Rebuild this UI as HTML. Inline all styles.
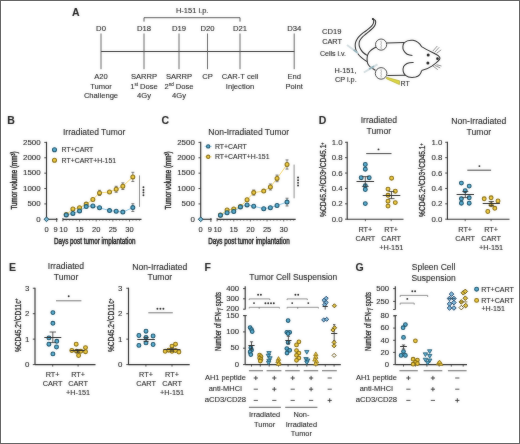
<!DOCTYPE html>
<html><head><meta charset="utf-8"><title>Figure</title>
<style>
html,body{margin:0;padding:0;background:#fff;}
body{width:520px;height:444px;overflow:hidden;}
#fig{position:relative;width:520px;height:444px;background:#fff;}
#fig svg{position:absolute;left:0;top:0;display:block;font-family:"Liberation Sans",sans-serif;will-change:transform;}
#fig svg text{stroke:#1e1e1e;stroke-width:0.1px;}
#frame{position:absolute;left:0;top:0;width:520px;height:444px;box-sizing:border-box;border:1px solid #666;}
</style></head>
<body>
<div id="fig">
<svg width="520" height="444" viewBox="0 0 520 444" fill="#1e1e1e">
<defs><filter id="soft" x="-2%" y="-2%" width="104%" height="104%" color-interpolation-filters="sRGB"><feGaussianBlur stdDeviation="0.8"/></filter></defs>
<g>
<rect width="520" height="444" fill="#fff"/>
<text x="72" y="15.8" font-size="10.5" font-weight="bold">A</text>
<path d="M144,21.6 V17.7 H240 V21.6" stroke="#2b2b2b" stroke-width="0.8" fill="none"/>
<text x="192.2" y="12.9" font-size="7.5" text-anchor="middle">H-151 i.p.</text>
<line x1="101" y1="51.5" x2="294.4" y2="51.5" stroke="#333" stroke-width="1"/>
<line x1="101" y1="33.5" x2="101" y2="69.2" stroke="#555" stroke-width="0.9"/>
<text x="101" y="30.5" font-size="7.7" text-anchor="middle">D0</text>
<line x1="144" y1="33.5" x2="144" y2="69.2" stroke="#555" stroke-width="0.9"/>
<text x="144" y="30.5" font-size="7.7" text-anchor="middle">D18</text>
<line x1="179" y1="33.5" x2="179" y2="69.2" stroke="#555" stroke-width="0.9"/>
<text x="179" y="30.5" font-size="7.7" text-anchor="middle">D19</text>
<line x1="207.5" y1="33.5" x2="207.5" y2="69.2" stroke="#555" stroke-width="0.9"/>
<text x="207.5" y="30.5" font-size="7.7" text-anchor="middle">D20</text>
<line x1="240" y1="33.5" x2="240" y2="69.2" stroke="#555" stroke-width="0.9"/>
<text x="240" y="30.5" font-size="7.7" text-anchor="middle">D21</text>
<line x1="294.2" y1="33.5" x2="294.2" y2="69.2" stroke="#555" stroke-width="0.9"/>
<text x="294.2" y="30.5" font-size="7.7" text-anchor="middle">D34</text>
<text x="101" y="78.9" font-size="7.6" text-anchor="middle">A20</text>
<text x="101" y="88.5" font-size="7.6" text-anchor="middle">Tumor</text>
<text x="101" y="98.1" font-size="7.6" text-anchor="middle">Challenge</text>
<text x="144" y="78.9" font-size="7.6" text-anchor="middle">SARRP</text>
<text x="144" y="88.5" font-size="7.6" text-anchor="middle">1<tspan font-size="4.6" dy="-2.6">st</tspan><tspan dy="2.6"> Dose</tspan></text>
<text x="144" y="98.1" font-size="7.6" text-anchor="middle">4Gy</text>
<text x="179" y="78.9" font-size="7.6" text-anchor="middle">SARRP</text>
<text x="179" y="88.5" font-size="7.6" text-anchor="middle">2<tspan font-size="4.6" dy="-2.6">nd</tspan><tspan dy="2.6"> Dose</tspan></text>
<text x="179" y="98.1" font-size="7.6" text-anchor="middle">4Gy</text>
<text x="207.5" y="78.9" font-size="7.6" text-anchor="middle">CP</text>
<text x="240" y="78.9" font-size="7.6" text-anchor="middle">CAR-T cell</text>
<text x="240" y="88.5" font-size="7.6" text-anchor="middle">Injection</text>
<text x="294.2" y="78.9" font-size="7.6" text-anchor="middle">End</text>
<text x="294.2" y="88.5" font-size="7.6" text-anchor="middle">Point</text>
<text x="331.7" y="34" font-size="7.6" text-anchor="middle">CD19</text>
<text x="332" y="44.3" font-size="7.3" text-anchor="middle">CART</text>
<text x="333" y="55.6" font-size="7" text-anchor="middle">Cells i.v.</text>
<text x="345.5" y="72.5" font-size="7.3" text-anchor="middle">H-151,</text>
<text x="345.8" y="82.2" font-size="7.3" text-anchor="middle">CP i.p.</text>
<text x="400.6" y="85.9" font-size="7">RT</text>
<path d="M372.4,18.7 C372.62,18.97 373.57,19.48 373.7,20.3 C373.83,21.12 373.6,22.6 373.2,23.6 C372.8,24.6 372.4,25.17 371.3,26.3 C370.2,27.43 367.98,29.3 366.6,30.4 C365.22,31.5 364.2,31.95 363,32.9 C361.8,33.85 360.42,35.02 359.4,36.1 C358.38,37.18 357.53,38.37 356.9,39.4 C356.27,40.43 355.88,41.28 355.6,42.3 C355.32,43.32 355.2,44.47 355.2,45.5 C355.2,46.53 355.38,47.55 355.6,48.5 C355.82,49.45 355.98,50.15 356.5,51.2 C357.02,52.25 357.92,53.78 358.7,54.8 C359.48,55.82 360.42,56.58 361.2,57.3 C361.98,58.02 362.45,58.38 363.4,59.1 C364.35,59.82 366.32,61.18 366.9,61.6" stroke="#262626" stroke-width="1.05" fill="none"/>
<path d="M372.4,18.7 C372.9,19.02 374.9,19.7 375.4,20.6 C375.9,21.5 375.72,22.97 375.4,24.1 C375.08,25.23 374.48,26.23 373.5,27.4 C372.52,28.57 370.77,30 369.5,31.1 C368.23,32.2 367.05,33.05 365.9,34 C364.75,34.95 363.57,35.78 362.6,36.8 C361.63,37.82 360.68,39.07 360.1,40.1 C359.52,41.13 359.22,41.93 359.1,43 C358.98,44.07 359.05,45.32 359.4,46.5 C359.75,47.68 360.48,49.02 361.2,50.1 C361.92,51.18 362.65,52.08 363.7,53 C364.75,53.92 366.87,55.17 367.5,55.6" stroke="#262626" stroke-width="1.05" fill="none"/>
<circle cx="372.9" cy="19.1" r="1.0" fill="#222"/>
<path d="M376.3,47 C375.9,47.2 374.85,47.6 373.9,48.2 C372.95,48.8 371.53,49.73 370.6,50.6 C369.67,51.47 368.85,52.42 368.3,53.4 C367.75,54.38 367.5,55.4 367.3,56.5 C367.1,57.6 367.02,58.78 367.1,60 C367.18,61.22 367.35,62.72 367.8,63.8 C368.25,64.88 369.02,65.72 369.8,66.5 C370.58,67.28 371.55,67.87 372.5,68.5 C373.45,69.13 375,70 375.5,70.3" stroke="#262626" stroke-width="1.05" fill="none"/>
<circle cx="381.1" cy="44.6" r="5.6" fill="#fff" stroke="#333" stroke-width="0.9"/>
<circle cx="381.1" cy="73.4" r="5.8" fill="#fff" stroke="#333" stroke-width="0.9"/>
<path d="M381.2,40.8 c-0.9,1 0.9,1.8 0,2.8 c-0.9,1 0.9,1.8 0,2.8 c-0.9,1 0.6,1.6 0,2.4" stroke="#8a8a8a" stroke-width="0.8" fill="none"/>
<path d="M381.2,69.4 c-0.9,1 0.9,1.8 0,2.8 c-0.9,1 0.9,1.8 0,2.8 c-0.9,1 0.6,1.6 0,2.4" stroke="#8a8a8a" stroke-width="0.8" fill="none"/>
<path d="M386.6,42.9 L404.3,42.6" stroke="#262626" stroke-width="1.05" fill="none"/>
<path d="M387.3,75.6 L405.3,75.3" stroke="#262626" stroke-width="1.05" fill="none"/>
<path d="M404.3,42.6 C406.5,40.6 410,39.9 413,40.3 C416.5,40.9 419.5,42.9 421.5,46.6 C425.5,49.2 431.5,52 435.8,54.2 C438.6,55.6 440.3,57.5 439.8,58.8 C439.2,60.6 436.5,62.6 432.2,65.9 C428.5,68.5 425,69.9 421.6,70.6" stroke="#262626" stroke-width="1.05" fill="none"/>
<path d="M404.3,42.6 C402.6,44.6 402.4,48.4 403.7,50.6 C405.1,53.3 408.4,55.5 412.4,55.5" stroke="#262626" stroke-width="1.05" fill="none"/>
<path d="M413.6,62.5 C409.4,62.3 405.3,63.6 403.6,66.6 C402.4,69.5 403.1,73.5 405.5,75.3 C407.8,77.2 412.2,77.8 415.6,77.1 C418.7,76.3 420.8,74.2 421.6,70.6" stroke="#262626" stroke-width="1.05" fill="none"/>
<circle cx="428.2" cy="55.0" r="1.5" fill="#1a1a1a"/>
<circle cx="427.9" cy="63.1" r="1.5" fill="#1a1a1a"/>
<circle cx="437.5" cy="58.7" r="1.35" fill="#1a1a1a"/>
<line x1="432.8" y1="51.1" x2="437.3" y2="46" stroke="#444" stroke-width="0.6"/>
<line x1="434.7" y1="52.3" x2="439.2" y2="47.3" stroke="#444" stroke-width="0.6"/>
<line x1="436.5" y1="53.3" x2="441.2" y2="49.9" stroke="#444" stroke-width="0.6"/>
<line x1="432.8" y1="65.9" x2="437.8" y2="69.7" stroke="#444" stroke-width="0.6"/>
<line x1="434.7" y1="65.3" x2="440.2" y2="67.9" stroke="#444" stroke-width="0.6"/>
<line x1="436.5" y1="64.7" x2="441.5" y2="66" stroke="#444" stroke-width="0.6"/>
<path d="M347.0,45.0 L358.2,53.2" stroke="#d3dde0" stroke-width="2" fill="none"/>
<path d="M353.6,49.8 L357.4,52.6" stroke="#8fb0b9" stroke-width="1.6" fill="none"/>
<path d="M363.8,72.5 L377.5,64.3" stroke="#d3dde0" stroke-width="2" fill="none"/>
<path d="M369.0,69.0 L374.0,66.3" stroke="#8fb0b9" stroke-width="1.6" fill="none"/>
<path d="M386.6,77.3 L399.6,80.8 L399.4,84.6 L386.3,78.7 Z" stroke="#aaa11c" stroke-width="0.6" fill="#dcd640"/>
<text x="7.2" y="123.9" font-size="10.5" font-weight="bold">B</text>
<text x="94.2" y="134.6" font-size="8.5" text-anchor="middle">Irradiated Tumor</text>
<line x1="46.5" y1="141.8" x2="46.5" y2="219.75" stroke="#2b2b2b" stroke-width="1.15"/>
<line x1="44.3" y1="219.3" x2="46.5" y2="219.3" stroke="#2b2b2b" stroke-width="0.9"/>
<text x="40.6" y="221.6" font-size="6.8" text-anchor="end" textLength="4.4" lengthAdjust="spacingAndGlyphs">0</text>
<line x1="44.3" y1="203.92" x2="46.5" y2="203.92" stroke="#2b2b2b" stroke-width="0.9"/>
<text x="40.6" y="206.22" font-size="6.8" text-anchor="end" textLength="13.2" lengthAdjust="spacingAndGlyphs">500</text>
<line x1="44.3" y1="188.54" x2="46.5" y2="188.54" stroke="#2b2b2b" stroke-width="0.9"/>
<text x="40.6" y="190.84" font-size="6.8" text-anchor="end" textLength="17.6" lengthAdjust="spacingAndGlyphs">1000</text>
<line x1="44.3" y1="173.16" x2="46.5" y2="173.16" stroke="#2b2b2b" stroke-width="0.9"/>
<text x="40.6" y="175.46" font-size="6.8" text-anchor="end" textLength="17.6" lengthAdjust="spacingAndGlyphs">1500</text>
<line x1="44.3" y1="157.78" x2="46.5" y2="157.78" stroke="#2b2b2b" stroke-width="0.9"/>
<text x="40.6" y="160.08" font-size="6.8" text-anchor="end" textLength="17.6" lengthAdjust="spacingAndGlyphs">2000</text>
<line x1="44.3" y1="142.4" x2="46.5" y2="142.4" stroke="#2b2b2b" stroke-width="0.9"/>
<text x="40.6" y="144.7" font-size="6.8" text-anchor="end" textLength="17.6" lengthAdjust="spacingAndGlyphs">2500</text>
<text transform="translate(17.2,180.5) rotate(-90)" x="0" y="0" font-size="8.6" font-weight="normal" text-anchor="middle" textLength="58.2" lengthAdjust="spacingAndGlyphs" fill="#1e1e1e" style="stroke-width:0.45px">Tumor volume (mm<tspan font-size="5" dy="-2.6">3</tspan><tspan dy="2.6">)</tspan></text>
<line x1="46.5" y1="219.3" x2="57.5" y2="219.3" stroke="#2b2b2b" stroke-width="1.15"/>
<line x1="56.7" y1="218" x2="56.7" y2="221.9" stroke="#2b2b2b" stroke-width="0.9"/>
<line x1="62.9" y1="219.3" x2="141.49" y2="219.3" stroke="#2b2b2b" stroke-width="1.15"/>
<line x1="62.9" y1="218" x2="62.9" y2="221.3" stroke="#2b2b2b" stroke-width="0.9"/>
<line x1="66.23" y1="219.3" x2="66.23" y2="220.6" stroke="#2b2b2b" stroke-width="0.7"/>
<line x1="69.56" y1="219.3" x2="69.56" y2="220.6" stroke="#2b2b2b" stroke-width="0.7"/>
<line x1="72.89" y1="219.3" x2="72.89" y2="220.6" stroke="#2b2b2b" stroke-width="0.7"/>
<line x1="76.22" y1="219.3" x2="76.22" y2="220.6" stroke="#2b2b2b" stroke-width="0.7"/>
<line x1="79.55" y1="219.3" x2="79.55" y2="221.5" stroke="#2b2b2b" stroke-width="0.7"/>
<line x1="82.88" y1="219.3" x2="82.88" y2="220.6" stroke="#2b2b2b" stroke-width="0.7"/>
<line x1="86.21" y1="219.3" x2="86.21" y2="220.6" stroke="#2b2b2b" stroke-width="0.7"/>
<line x1="89.54" y1="219.3" x2="89.54" y2="220.6" stroke="#2b2b2b" stroke-width="0.7"/>
<line x1="92.87" y1="219.3" x2="92.87" y2="220.6" stroke="#2b2b2b" stroke-width="0.7"/>
<line x1="96.2" y1="219.3" x2="96.2" y2="221.5" stroke="#2b2b2b" stroke-width="0.7"/>
<line x1="99.53" y1="219.3" x2="99.53" y2="220.6" stroke="#2b2b2b" stroke-width="0.7"/>
<line x1="102.86" y1="219.3" x2="102.86" y2="220.6" stroke="#2b2b2b" stroke-width="0.7"/>
<line x1="106.19" y1="219.3" x2="106.19" y2="220.6" stroke="#2b2b2b" stroke-width="0.7"/>
<line x1="109.52" y1="219.3" x2="109.52" y2="220.6" stroke="#2b2b2b" stroke-width="0.7"/>
<line x1="112.85" y1="219.3" x2="112.85" y2="221.5" stroke="#2b2b2b" stroke-width="0.7"/>
<line x1="116.18" y1="219.3" x2="116.18" y2="220.6" stroke="#2b2b2b" stroke-width="0.7"/>
<line x1="119.51" y1="219.3" x2="119.51" y2="220.6" stroke="#2b2b2b" stroke-width="0.7"/>
<line x1="122.84" y1="219.3" x2="122.84" y2="220.6" stroke="#2b2b2b" stroke-width="0.7"/>
<line x1="126.17" y1="219.3" x2="126.17" y2="220.6" stroke="#2b2b2b" stroke-width="0.7"/>
<line x1="129.5" y1="219.3" x2="129.5" y2="221.5" stroke="#2b2b2b" stroke-width="0.7"/>
<line x1="132.83" y1="219.3" x2="132.83" y2="220.6" stroke="#2b2b2b" stroke-width="0.7"/>
<line x1="136.16" y1="219.3" x2="136.16" y2="220.6" stroke="#2b2b2b" stroke-width="0.7"/>
<line x1="139.49" y1="219.3" x2="139.49" y2="220.6" stroke="#2b2b2b" stroke-width="0.7"/>
<text x="46.5" y="231.8" font-size="7.5" text-anchor="middle">0</text>
<text x="55.6" y="231.8" font-size="7.5" text-anchor="middle">9</text>
<text x="63.4" y="231.8" font-size="7.5" text-anchor="middle">10</text>
<text x="79.55" y="231.8" font-size="7.5" text-anchor="middle">15</text>
<text x="96.2" y="231.8" font-size="7.5" text-anchor="middle">20</text>
<text x="112.85" y="231.8" font-size="7.5" text-anchor="middle">25</text>
<text x="129.5" y="231.8" font-size="7.5" text-anchor="middle">30</text>
<text x="94.7" y="244" font-size="8.6" text-anchor="middle" textLength="81.5" lengthAdjust="spacingAndGlyphs" style="stroke-width:0.45px">Days post tumor implantation</text>
<path d="M46.5,216.9 L48.9,219.3 L46.5,221.7 L44.1,219.3 Z" fill="#78bcd8" stroke="#1a4a60" stroke-width="1"/>
<polyline points="66.23,214.6 72.89,209 79.55,207.8 86.21,204.1 92.87,199.5 99.53,192.9 109.52,192 116.18,189.3 122.84,186.2 132.83,176.9" fill="none" stroke="#f3d35a" stroke-width="0.9"/>
<polyline points="66.23,214.9 72.89,213.4 79.55,210.9 86.21,206.6 92.87,205.9 99.53,207.8 109.52,210.6 116.18,211.3 122.84,212.1 132.83,207.6" fill="none" stroke="#7cbde0" stroke-width="0.9"/>
<line x1="132.83" y1="172.3" x2="132.83" y2="181.5" stroke="#444" stroke-width="0.7"/>
<line x1="131.33" y1="172.3" x2="134.33" y2="172.3" stroke="#444" stroke-width="0.7"/>
<line x1="131.33" y1="181.5" x2="134.33" y2="181.5" stroke="#444" stroke-width="0.7"/>
<line x1="132.83" y1="203.7" x2="132.83" y2="211.5" stroke="#444" stroke-width="0.7"/>
<line x1="131.33" y1="203.7" x2="134.33" y2="203.7" stroke="#444" stroke-width="0.7"/>
<line x1="131.33" y1="211.5" x2="134.33" y2="211.5" stroke="#444" stroke-width="0.7"/>
<line x1="122.84" y1="182.9" x2="122.84" y2="189.5" stroke="#444" stroke-width="0.7"/>
<line x1="121.34" y1="182.9" x2="124.34" y2="182.9" stroke="#444" stroke-width="0.7"/>
<line x1="121.34" y1="189.5" x2="124.34" y2="189.5" stroke="#444" stroke-width="0.7"/>
<line x1="116.18" y1="186.3" x2="116.18" y2="192.3" stroke="#444" stroke-width="0.7"/>
<line x1="114.68" y1="186.3" x2="117.68" y2="186.3" stroke="#444" stroke-width="0.7"/>
<line x1="114.68" y1="192.3" x2="117.68" y2="192.3" stroke="#444" stroke-width="0.7"/>
<line x1="99.53" y1="190.3" x2="99.53" y2="195.5" stroke="#444" stroke-width="0.7"/>
<line x1="98.03" y1="190.3" x2="101.03" y2="190.3" stroke="#444" stroke-width="0.7"/>
<line x1="98.03" y1="195.5" x2="101.03" y2="195.5" stroke="#444" stroke-width="0.7"/>
<circle cx="66.23" cy="214.6" r="1.98" fill="#f2cc3c" stroke="#866c12" stroke-width="1.05"/>
<circle cx="72.89" cy="209" r="1.98" fill="#f2cc3c" stroke="#866c12" stroke-width="1.05"/>
<circle cx="79.55" cy="207.8" r="1.98" fill="#f2cc3c" stroke="#866c12" stroke-width="1.05"/>
<circle cx="86.21" cy="204.1" r="1.98" fill="#f2cc3c" stroke="#866c12" stroke-width="1.05"/>
<circle cx="92.87" cy="199.5" r="1.98" fill="#f2cc3c" stroke="#866c12" stroke-width="1.05"/>
<circle cx="99.53" cy="192.9" r="1.98" fill="#f2cc3c" stroke="#866c12" stroke-width="1.05"/>
<circle cx="109.52" cy="192" r="1.98" fill="#f2cc3c" stroke="#866c12" stroke-width="1.05"/>
<circle cx="116.18" cy="189.3" r="1.98" fill="#f2cc3c" stroke="#866c12" stroke-width="1.05"/>
<circle cx="122.84" cy="186.2" r="1.98" fill="#f2cc3c" stroke="#866c12" stroke-width="1.05"/>
<circle cx="132.83" cy="176.9" r="1.98" fill="#f2cc3c" stroke="#866c12" stroke-width="1.05"/>
<circle cx="66.23" cy="214.9" r="1.98" fill="#55aed3" stroke="#1a5068" stroke-width="1.05"/>
<circle cx="72.89" cy="213.4" r="1.98" fill="#55aed3" stroke="#1a5068" stroke-width="1.05"/>
<circle cx="79.55" cy="210.9" r="1.98" fill="#55aed3" stroke="#1a5068" stroke-width="1.05"/>
<circle cx="86.21" cy="206.6" r="1.98" fill="#55aed3" stroke="#1a5068" stroke-width="1.05"/>
<circle cx="92.87" cy="205.9" r="1.98" fill="#55aed3" stroke="#1a5068" stroke-width="1.05"/>
<circle cx="99.53" cy="207.8" r="1.98" fill="#55aed3" stroke="#1a5068" stroke-width="1.05"/>
<circle cx="109.52" cy="210.6" r="1.98" fill="#55aed3" stroke="#1a5068" stroke-width="1.05"/>
<circle cx="116.18" cy="211.3" r="1.98" fill="#55aed3" stroke="#1a5068" stroke-width="1.05"/>
<circle cx="122.84" cy="212.1" r="1.98" fill="#55aed3" stroke="#1a5068" stroke-width="1.05"/>
<circle cx="132.83" cy="207.6" r="1.98" fill="#55aed3" stroke="#1a5068" stroke-width="1.05"/>
<circle cx="54.5" cy="149.7" r="2.02" fill="#55aed3" stroke="#1a5068" stroke-width="1.05"/>
<circle cx="54.5" cy="160.3" r="2.02" fill="#f2cc3c" stroke="#866c12" stroke-width="1.05"/>
<text x="61.6" y="152" font-size="6.9">RT+CART</text>
<text x="61.6" y="162.6" font-size="6.9">RT+CART+H-151</text>
<line x1="139.5" y1="175.4" x2="139.5" y2="206.9" stroke="#6e6e6e" stroke-width="0.8"/>
<circle cx="143.45" cy="187.28" r="0.95" fill="#222"/>
<circle cx="143.45" cy="189.93" r="0.95" fill="#222"/>
<circle cx="143.45" cy="192.57" r="0.95" fill="#222"/>
<circle cx="143.45" cy="195.22" r="0.95" fill="#222"/>
<text x="161.4" y="123.9" font-size="10.5" font-weight="bold">C</text>
<text x="248.7" y="134.6" font-size="8.5" text-anchor="middle">Non-Irradiated Tumor</text>
<line x1="200.7" y1="141.8" x2="200.7" y2="219.75" stroke="#2b2b2b" stroke-width="1.15"/>
<line x1="198.5" y1="219.3" x2="200.7" y2="219.3" stroke="#2b2b2b" stroke-width="0.9"/>
<text x="194.8" y="221.6" font-size="6.8" text-anchor="end" textLength="4.4" lengthAdjust="spacingAndGlyphs">0</text>
<line x1="198.5" y1="203.92" x2="200.7" y2="203.92" stroke="#2b2b2b" stroke-width="0.9"/>
<text x="194.8" y="206.22" font-size="6.8" text-anchor="end" textLength="13.2" lengthAdjust="spacingAndGlyphs">500</text>
<line x1="198.5" y1="188.54" x2="200.7" y2="188.54" stroke="#2b2b2b" stroke-width="0.9"/>
<text x="194.8" y="190.84" font-size="6.8" text-anchor="end" textLength="17.6" lengthAdjust="spacingAndGlyphs">1000</text>
<line x1="198.5" y1="173.16" x2="200.7" y2="173.16" stroke="#2b2b2b" stroke-width="0.9"/>
<text x="194.8" y="175.46" font-size="6.8" text-anchor="end" textLength="17.6" lengthAdjust="spacingAndGlyphs">1500</text>
<line x1="198.5" y1="157.78" x2="200.7" y2="157.78" stroke="#2b2b2b" stroke-width="0.9"/>
<text x="194.8" y="160.08" font-size="6.8" text-anchor="end" textLength="17.6" lengthAdjust="spacingAndGlyphs">2000</text>
<line x1="198.5" y1="142.4" x2="200.7" y2="142.4" stroke="#2b2b2b" stroke-width="0.9"/>
<text x="194.8" y="144.7" font-size="6.8" text-anchor="end" textLength="17.6" lengthAdjust="spacingAndGlyphs">2500</text>
<text transform="translate(171.4,180.5) rotate(-90)" x="0" y="0" font-size="8.6" font-weight="normal" text-anchor="middle" textLength="58.2" lengthAdjust="spacingAndGlyphs" fill="#1e1e1e" style="stroke-width:0.45px">Tumor volume (mm<tspan font-size="5" dy="-2.6">3</tspan><tspan dy="2.6">)</tspan></text>
<line x1="200.7" y1="219.3" x2="211.7" y2="219.3" stroke="#2b2b2b" stroke-width="1.15"/>
<line x1="210.9" y1="218" x2="210.9" y2="221.9" stroke="#2b2b2b" stroke-width="0.9"/>
<line x1="217.1" y1="219.3" x2="295.69" y2="219.3" stroke="#2b2b2b" stroke-width="1.15"/>
<line x1="217.1" y1="218" x2="217.1" y2="221.3" stroke="#2b2b2b" stroke-width="0.9"/>
<line x1="220.43" y1="219.3" x2="220.43" y2="220.6" stroke="#2b2b2b" stroke-width="0.7"/>
<line x1="223.76" y1="219.3" x2="223.76" y2="220.6" stroke="#2b2b2b" stroke-width="0.7"/>
<line x1="227.09" y1="219.3" x2="227.09" y2="220.6" stroke="#2b2b2b" stroke-width="0.7"/>
<line x1="230.42" y1="219.3" x2="230.42" y2="220.6" stroke="#2b2b2b" stroke-width="0.7"/>
<line x1="233.75" y1="219.3" x2="233.75" y2="221.5" stroke="#2b2b2b" stroke-width="0.7"/>
<line x1="237.08" y1="219.3" x2="237.08" y2="220.6" stroke="#2b2b2b" stroke-width="0.7"/>
<line x1="240.41" y1="219.3" x2="240.41" y2="220.6" stroke="#2b2b2b" stroke-width="0.7"/>
<line x1="243.74" y1="219.3" x2="243.74" y2="220.6" stroke="#2b2b2b" stroke-width="0.7"/>
<line x1="247.07" y1="219.3" x2="247.07" y2="220.6" stroke="#2b2b2b" stroke-width="0.7"/>
<line x1="250.4" y1="219.3" x2="250.4" y2="221.5" stroke="#2b2b2b" stroke-width="0.7"/>
<line x1="253.73" y1="219.3" x2="253.73" y2="220.6" stroke="#2b2b2b" stroke-width="0.7"/>
<line x1="257.06" y1="219.3" x2="257.06" y2="220.6" stroke="#2b2b2b" stroke-width="0.7"/>
<line x1="260.39" y1="219.3" x2="260.39" y2="220.6" stroke="#2b2b2b" stroke-width="0.7"/>
<line x1="263.72" y1="219.3" x2="263.72" y2="220.6" stroke="#2b2b2b" stroke-width="0.7"/>
<line x1="267.05" y1="219.3" x2="267.05" y2="221.5" stroke="#2b2b2b" stroke-width="0.7"/>
<line x1="270.38" y1="219.3" x2="270.38" y2="220.6" stroke="#2b2b2b" stroke-width="0.7"/>
<line x1="273.71" y1="219.3" x2="273.71" y2="220.6" stroke="#2b2b2b" stroke-width="0.7"/>
<line x1="277.04" y1="219.3" x2="277.04" y2="220.6" stroke="#2b2b2b" stroke-width="0.7"/>
<line x1="280.37" y1="219.3" x2="280.37" y2="220.6" stroke="#2b2b2b" stroke-width="0.7"/>
<line x1="283.7" y1="219.3" x2="283.7" y2="221.5" stroke="#2b2b2b" stroke-width="0.7"/>
<line x1="287.03" y1="219.3" x2="287.03" y2="220.6" stroke="#2b2b2b" stroke-width="0.7"/>
<line x1="290.36" y1="219.3" x2="290.36" y2="220.6" stroke="#2b2b2b" stroke-width="0.7"/>
<line x1="293.69" y1="219.3" x2="293.69" y2="220.6" stroke="#2b2b2b" stroke-width="0.7"/>
<text x="200.7" y="231.8" font-size="7.5" text-anchor="middle">0</text>
<text x="209.8" y="231.8" font-size="7.5" text-anchor="middle">9</text>
<text x="217.6" y="231.8" font-size="7.5" text-anchor="middle">10</text>
<text x="233.75" y="231.8" font-size="7.5" text-anchor="middle">15</text>
<text x="250.4" y="231.8" font-size="7.5" text-anchor="middle">20</text>
<text x="267.05" y="231.8" font-size="7.5" text-anchor="middle">25</text>
<text x="283.7" y="231.8" font-size="7.5" text-anchor="middle">30</text>
<text x="248.9" y="244" font-size="8.6" text-anchor="middle" textLength="81.5" lengthAdjust="spacingAndGlyphs" style="stroke-width:0.45px">Days post tumor implantation</text>
<path d="M200.7,216.9 L203.1,219.3 L200.7,221.7 L198.3,219.3 Z" fill="#78bcd8" stroke="#1a4a60" stroke-width="1"/>
<polyline points="220.43,215 227.09,210 233.75,209 240.41,206.5 247.07,199.7 253.73,192.6 263.72,191.1 270.38,187 277.04,178.4 287.03,164.5" fill="none" stroke="#f3d35a" stroke-width="0.9"/>
<polyline points="220.43,215.2 227.09,212.8 233.75,211.5 240.41,206.9 247.07,204.9 253.73,206.2 263.72,208.7 270.38,207.7 277.04,205.5 287.03,202.1" fill="none" stroke="#7cbde0" stroke-width="0.9"/>
<line x1="287.03" y1="159.9" x2="287.03" y2="169.1" stroke="#444" stroke-width="0.7"/>
<line x1="285.53" y1="159.9" x2="288.53" y2="159.9" stroke="#444" stroke-width="0.7"/>
<line x1="285.53" y1="169.1" x2="288.53" y2="169.1" stroke="#444" stroke-width="0.7"/>
<line x1="287.03" y1="198.2" x2="287.03" y2="206" stroke="#444" stroke-width="0.7"/>
<line x1="285.53" y1="198.2" x2="288.53" y2="198.2" stroke="#444" stroke-width="0.7"/>
<line x1="285.53" y1="206" x2="288.53" y2="206" stroke="#444" stroke-width="0.7"/>
<line x1="277.04" y1="175.1" x2="277.04" y2="181.7" stroke="#444" stroke-width="0.7"/>
<line x1="275.54" y1="175.1" x2="278.54" y2="175.1" stroke="#444" stroke-width="0.7"/>
<line x1="275.54" y1="181.7" x2="278.54" y2="181.7" stroke="#444" stroke-width="0.7"/>
<line x1="270.38" y1="184" x2="270.38" y2="190" stroke="#444" stroke-width="0.7"/>
<line x1="268.88" y1="184" x2="271.88" y2="184" stroke="#444" stroke-width="0.7"/>
<line x1="268.88" y1="190" x2="271.88" y2="190" stroke="#444" stroke-width="0.7"/>
<line x1="253.73" y1="190" x2="253.73" y2="195.2" stroke="#444" stroke-width="0.7"/>
<line x1="252.23" y1="190" x2="255.23" y2="190" stroke="#444" stroke-width="0.7"/>
<line x1="252.23" y1="195.2" x2="255.23" y2="195.2" stroke="#444" stroke-width="0.7"/>
<circle cx="220.43" cy="215" r="1.98" fill="#f2cc3c" stroke="#866c12" stroke-width="1.05"/>
<circle cx="227.09" cy="210" r="1.98" fill="#f2cc3c" stroke="#866c12" stroke-width="1.05"/>
<circle cx="233.75" cy="209" r="1.98" fill="#f2cc3c" stroke="#866c12" stroke-width="1.05"/>
<circle cx="240.41" cy="206.5" r="1.98" fill="#f2cc3c" stroke="#866c12" stroke-width="1.05"/>
<circle cx="247.07" cy="199.7" r="1.98" fill="#f2cc3c" stroke="#866c12" stroke-width="1.05"/>
<circle cx="253.73" cy="192.6" r="1.98" fill="#f2cc3c" stroke="#866c12" stroke-width="1.05"/>
<circle cx="263.72" cy="191.1" r="1.98" fill="#f2cc3c" stroke="#866c12" stroke-width="1.05"/>
<circle cx="270.38" cy="187" r="1.98" fill="#f2cc3c" stroke="#866c12" stroke-width="1.05"/>
<circle cx="277.04" cy="178.4" r="1.98" fill="#f2cc3c" stroke="#866c12" stroke-width="1.05"/>
<circle cx="287.03" cy="164.5" r="1.98" fill="#f2cc3c" stroke="#866c12" stroke-width="1.05"/>
<circle cx="220.43" cy="215.2" r="1.98" fill="#55aed3" stroke="#1a5068" stroke-width="1.05"/>
<circle cx="227.09" cy="212.8" r="1.98" fill="#55aed3" stroke="#1a5068" stroke-width="1.05"/>
<circle cx="233.75" cy="211.5" r="1.98" fill="#55aed3" stroke="#1a5068" stroke-width="1.05"/>
<circle cx="240.41" cy="206.9" r="1.98" fill="#55aed3" stroke="#1a5068" stroke-width="1.05"/>
<circle cx="247.07" cy="204.9" r="1.98" fill="#55aed3" stroke="#1a5068" stroke-width="1.05"/>
<circle cx="253.73" cy="206.2" r="1.98" fill="#55aed3" stroke="#1a5068" stroke-width="1.05"/>
<circle cx="263.72" cy="208.7" r="1.98" fill="#55aed3" stroke="#1a5068" stroke-width="1.05"/>
<circle cx="270.38" cy="207.7" r="1.98" fill="#55aed3" stroke="#1a5068" stroke-width="1.05"/>
<circle cx="277.04" cy="205.5" r="1.98" fill="#55aed3" stroke="#1a5068" stroke-width="1.05"/>
<circle cx="287.03" cy="202.1" r="1.98" fill="#55aed3" stroke="#1a5068" stroke-width="1.05"/>
<line x1="204.7" y1="146.4" x2="211.7" y2="146.4" stroke="#7cbde0" stroke-width="0.8"/>
<line x1="204.7" y1="156.8" x2="211.7" y2="156.8" stroke="#f3d35a" stroke-width="0.8"/>
<circle cx="208.2" cy="146.4" r="1.67" fill="#55aed3" stroke="#1a5068" stroke-width="1.05"/>
<circle cx="208.2" cy="156.8" r="1.67" fill="#f2cc3c" stroke="#866c12" stroke-width="1.05"/>
<text x="215" y="148.7" font-size="6.9">RT+CART</text>
<text x="215" y="159.1" font-size="6.9">RT+CART+H-151</text>
<line x1="294.1" y1="164.6" x2="294.1" y2="198.3" stroke="#6e6e6e" stroke-width="0.8"/>
<circle cx="298.05" cy="177.57" r="0.95" fill="#222"/>
<circle cx="298.05" cy="180.22" r="0.95" fill="#222"/>
<circle cx="298.05" cy="182.87" r="0.95" fill="#222"/>
<circle cx="298.05" cy="185.52" r="0.95" fill="#222"/>
<text x="318.8" y="124.1" font-size="10.5" font-weight="bold">D</text>
<text x="378.8" y="122.7" font-size="8.6" text-anchor="middle">Irradiated</text>
<text x="378.8" y="134.2" font-size="8.6" text-anchor="middle">Tumor</text>
<text x="478.8" y="123.5" font-size="8.6" text-anchor="middle">Non-Irradiated</text>
<text x="478.8" y="134.7" font-size="8.6" text-anchor="middle">Tumor</text>
<line x1="347.2" y1="141.8" x2="347.2" y2="219.65" stroke="#2b2b2b" stroke-width="1.15"/>
<line x1="347.2" y1="219.2" x2="403.5" y2="219.2" stroke="#2b2b2b" stroke-width="1.15"/>
<line x1="345" y1="219.2" x2="347.2" y2="219.2" stroke="#2b2b2b" stroke-width="0.9"/>
<text x="342.6" y="221.7" font-size="7" text-anchor="end" textLength="10.9" lengthAdjust="spacingAndGlyphs">0.0</text>
<line x1="345" y1="203.82" x2="347.2" y2="203.82" stroke="#2b2b2b" stroke-width="0.9"/>
<text x="342.6" y="206.32" font-size="7" text-anchor="end" textLength="10.9" lengthAdjust="spacingAndGlyphs">0.2</text>
<line x1="345" y1="188.44" x2="347.2" y2="188.44" stroke="#2b2b2b" stroke-width="0.9"/>
<text x="342.6" y="190.94" font-size="7" text-anchor="end" textLength="10.9" lengthAdjust="spacingAndGlyphs">0.4</text>
<line x1="345" y1="173.06" x2="347.2" y2="173.06" stroke="#2b2b2b" stroke-width="0.9"/>
<text x="342.6" y="175.56" font-size="7" text-anchor="end" textLength="10.9" lengthAdjust="spacingAndGlyphs">0.6</text>
<line x1="345" y1="157.68" x2="347.2" y2="157.68" stroke="#2b2b2b" stroke-width="0.9"/>
<text x="342.6" y="160.18" font-size="7" text-anchor="end" textLength="10.9" lengthAdjust="spacingAndGlyphs">0.8</text>
<line x1="345" y1="142.3" x2="347.2" y2="142.3" stroke="#2b2b2b" stroke-width="0.9"/>
<text x="342.6" y="144.8" font-size="7" text-anchor="end" textLength="10.9" lengthAdjust="spacingAndGlyphs">1.0</text>
<line x1="365.4" y1="219.2" x2="365.4" y2="221.2" stroke="#2b2b2b" stroke-width="0.8"/>
<line x1="391.2" y1="219.2" x2="391.2" y2="221.2" stroke="#2b2b2b" stroke-width="0.8"/>
<text transform="translate(325.9,179.8) rotate(-90)" x="0" y="0" font-size="8.6" font-weight="normal" text-anchor="middle" textLength="74.5" lengthAdjust="spacingAndGlyphs" fill="#1e1e1e" style="stroke-width:0.3px">%CD45.2<tspan font-size="4.6" dy="-2.3">+</tspan><tspan dy="2.3">/CD3</tspan><tspan font-size="4.6" dy="-2.3">+</tspan><tspan dy="2.3">/CD45.1</tspan><tspan font-size="4.6" dy="-2.3">+</tspan></text>
<line x1="447.4" y1="141.8" x2="447.4" y2="219.65" stroke="#2b2b2b" stroke-width="1.15"/>
<line x1="447.4" y1="219.2" x2="509.5" y2="219.2" stroke="#2b2b2b" stroke-width="1.15"/>
<line x1="445.2" y1="219.2" x2="447.4" y2="219.2" stroke="#2b2b2b" stroke-width="0.9"/>
<text x="442.3" y="221.7" font-size="7" text-anchor="end" textLength="10.9" lengthAdjust="spacingAndGlyphs">0.0</text>
<line x1="445.2" y1="203.82" x2="447.4" y2="203.82" stroke="#2b2b2b" stroke-width="0.9"/>
<text x="442.3" y="206.32" font-size="7" text-anchor="end" textLength="10.9" lengthAdjust="spacingAndGlyphs">0.2</text>
<line x1="445.2" y1="188.44" x2="447.4" y2="188.44" stroke="#2b2b2b" stroke-width="0.9"/>
<text x="442.3" y="190.94" font-size="7" text-anchor="end" textLength="10.9" lengthAdjust="spacingAndGlyphs">0.4</text>
<line x1="445.2" y1="173.06" x2="447.4" y2="173.06" stroke="#2b2b2b" stroke-width="0.9"/>
<text x="442.3" y="175.56" font-size="7" text-anchor="end" textLength="10.9" lengthAdjust="spacingAndGlyphs">0.6</text>
<line x1="445.2" y1="157.68" x2="447.4" y2="157.68" stroke="#2b2b2b" stroke-width="0.9"/>
<text x="442.3" y="160.18" font-size="7" text-anchor="end" textLength="10.9" lengthAdjust="spacingAndGlyphs">0.8</text>
<line x1="445.2" y1="142.3" x2="447.4" y2="142.3" stroke="#2b2b2b" stroke-width="0.9"/>
<text x="442.3" y="144.8" font-size="7" text-anchor="end" textLength="10.9" lengthAdjust="spacingAndGlyphs">1.0</text>
<line x1="465.2" y1="219.2" x2="465.2" y2="221.2" stroke="#2b2b2b" stroke-width="0.8"/>
<line x1="491.1" y1="219.2" x2="491.1" y2="221.2" stroke="#2b2b2b" stroke-width="0.8"/>
<text transform="translate(424.8,180.2) rotate(-90)" x="0" y="0" font-size="8.6" font-weight="normal" text-anchor="middle" textLength="73.5" lengthAdjust="spacingAndGlyphs" fill="#1e1e1e" style="stroke-width:0.3px">%CD45.2<tspan font-size="4.6" dy="-2.3">+</tspan><tspan dy="2.3">/CD3</tspan><tspan font-size="4.6" dy="-2.3">+</tspan><tspan dy="2.3">/CD45.1</tspan><tspan font-size="4.6" dy="-2.3">+</tspan></text>
<text x="365.4" y="232" font-size="7.3" text-anchor="middle">RT+</text>
<text x="365.4" y="240.9" font-size="7.3" text-anchor="middle">CART</text>
<text x="391.2" y="232" font-size="7.3" text-anchor="middle">RT+</text>
<text x="391.2" y="240.9" font-size="7.3" text-anchor="middle">CART</text>
<text x="391.2" y="249.8" font-size="7.3" text-anchor="middle">+H-151</text>
<text x="465.2" y="232" font-size="7.3" text-anchor="middle">RT+</text>
<text x="465.2" y="240.9" font-size="7.3" text-anchor="middle">CART</text>
<text x="491.1" y="232" font-size="7.3" text-anchor="middle">RT+</text>
<text x="491.1" y="240.9" font-size="7.3" text-anchor="middle">CART</text>
<text x="491.1" y="249.8" font-size="7.3" text-anchor="middle">+H-151</text>
<line x1="366.2" y1="153.6" x2="391.5" y2="153.6" stroke="#333" stroke-width="0.95"/>
<circle cx="378.5" cy="149.4" r="0.95" fill="#222"/>
<line x1="467.3" y1="170.2" x2="491.1" y2="170.2" stroke="#333" stroke-width="0.95"/>
<circle cx="479.4" cy="166.1" r="0.95" fill="#222"/>
<circle cx="365.3" cy="164.5" r="1.94" fill="#55aed3" stroke="#1a5068" stroke-width="1.05"/>
<circle cx="365.3" cy="169.2" r="1.94" fill="#55aed3" stroke="#1a5068" stroke-width="1.05"/>
<circle cx="361.2" cy="177.7" r="1.94" fill="#55aed3" stroke="#1a5068" stroke-width="1.05"/>
<circle cx="369.2" cy="177.7" r="1.94" fill="#55aed3" stroke="#1a5068" stroke-width="1.05"/>
<circle cx="365.3" cy="185.8" r="1.94" fill="#55aed3" stroke="#1a5068" stroke-width="1.05"/>
<circle cx="365.3" cy="189.5" r="1.94" fill="#55aed3" stroke="#1a5068" stroke-width="1.05"/>
<circle cx="365.3" cy="203.6" r="1.94" fill="#55aed3" stroke="#1a5068" stroke-width="1.05"/>
<line x1="356.5" y1="181.5" x2="374.1" y2="181.5" stroke="#2a2a2a" stroke-width="1"/>
<line x1="365.3" y1="176.6" x2="365.3" y2="186.4" stroke="#2a2a2a" stroke-width="0.8"/>
<line x1="361.9" y1="176.6" x2="368.7" y2="176.6" stroke="#2a2a2a" stroke-width="0.8"/>
<line x1="361.9" y1="186.4" x2="368.7" y2="186.4" stroke="#2a2a2a" stroke-width="0.8"/>
<circle cx="391.6" cy="178.2" r="1.94" fill="#f2cc3c" stroke="#866c12" stroke-width="1.05"/>
<circle cx="388" cy="189.1" r="1.94" fill="#f2cc3c" stroke="#866c12" stroke-width="1.05"/>
<circle cx="395.3" cy="191.2" r="1.94" fill="#f2cc3c" stroke="#866c12" stroke-width="1.05"/>
<circle cx="388" cy="195.3" r="1.94" fill="#f2cc3c" stroke="#866c12" stroke-width="1.05"/>
<circle cx="388" cy="201.2" r="1.94" fill="#f2cc3c" stroke="#866c12" stroke-width="1.05"/>
<circle cx="395.3" cy="202.6" r="1.94" fill="#f2cc3c" stroke="#866c12" stroke-width="1.05"/>
<circle cx="388" cy="206.1" r="1.94" fill="#f2cc3c" stroke="#866c12" stroke-width="1.05"/>
<line x1="382.7" y1="195.5" x2="400.3" y2="195.5" stroke="#2a2a2a" stroke-width="1"/>
<line x1="391.5" y1="191.5" x2="391.5" y2="198.6" stroke="#2a2a2a" stroke-width="0.8"/>
<line x1="388.5" y1="191.5" x2="394.5" y2="191.5" stroke="#2a2a2a" stroke-width="0.8"/>
<line x1="388.5" y1="198.6" x2="394.5" y2="198.6" stroke="#2a2a2a" stroke-width="0.8"/>
<circle cx="461.4" cy="183.1" r="1.94" fill="#55aed3" stroke="#1a5068" stroke-width="1.05"/>
<circle cx="469.2" cy="186.1" r="1.94" fill="#55aed3" stroke="#1a5068" stroke-width="1.05"/>
<circle cx="465.2" cy="190.7" r="1.94" fill="#55aed3" stroke="#1a5068" stroke-width="1.05"/>
<circle cx="461.4" cy="198.8" r="1.94" fill="#55aed3" stroke="#1a5068" stroke-width="1.05"/>
<circle cx="469.2" cy="197.8" r="1.94" fill="#55aed3" stroke="#1a5068" stroke-width="1.05"/>
<circle cx="461.4" cy="203.2" r="1.94" fill="#55aed3" stroke="#1a5068" stroke-width="1.05"/>
<circle cx="469.2" cy="203.2" r="1.94" fill="#55aed3" stroke="#1a5068" stroke-width="1.05"/>
<line x1="456.6" y1="194.5" x2="474" y2="194.5" stroke="#2a2a2a" stroke-width="1"/>
<line x1="465.3" y1="191.5" x2="465.3" y2="197.6" stroke="#2a2a2a" stroke-width="0.8"/>
<line x1="462.3" y1="191.5" x2="468.3" y2="191.5" stroke="#2a2a2a" stroke-width="0.8"/>
<line x1="462.3" y1="197.6" x2="468.3" y2="197.6" stroke="#2a2a2a" stroke-width="0.8"/>
<circle cx="484.2" cy="198.8" r="1.94" fill="#f2cc3c" stroke="#866c12" stroke-width="1.05"/>
<circle cx="491.1" cy="197.8" r="1.94" fill="#f2cc3c" stroke="#866c12" stroke-width="1.05"/>
<circle cx="498" cy="201" r="1.94" fill="#f2cc3c" stroke="#866c12" stroke-width="1.05"/>
<circle cx="491.1" cy="204.7" r="1.94" fill="#f2cc3c" stroke="#866c12" stroke-width="1.05"/>
<circle cx="494.8" cy="208.3" r="1.94" fill="#f2cc3c" stroke="#866c12" stroke-width="1.05"/>
<circle cx="487.8" cy="211.5" r="1.94" fill="#f2cc3c" stroke="#866c12" stroke-width="1.05"/>
<line x1="482.7" y1="203.5" x2="499.9" y2="203.5" stroke="#2a2a2a" stroke-width="1"/>
<line x1="491.3" y1="201.5" x2="491.3" y2="205.6" stroke="#2a2a2a" stroke-width="0.8"/>
<line x1="488.7" y1="201.5" x2="493.9" y2="201.5" stroke="#2a2a2a" stroke-width="0.8"/>
<line x1="488.7" y1="205.6" x2="493.9" y2="205.6" stroke="#2a2a2a" stroke-width="0.8"/>
<text x="9" y="270.9" font-size="10.5" font-weight="bold">E</text>
<text x="66" y="269.3" font-size="8.6" text-anchor="middle">Irradiated</text>
<text x="66" y="279.6" font-size="8.6" text-anchor="middle">Tumor</text>
<text x="159.8" y="269.6" font-size="8.6" text-anchor="middle">Non-Irradiated</text>
<text x="159.8" y="279.6" font-size="8.6" text-anchor="middle">Tumor</text>
<line x1="35" y1="287.7" x2="35" y2="365.05" stroke="#2b2b2b" stroke-width="1.15"/>
<line x1="35" y1="364.6" x2="95.5" y2="364.6" stroke="#2b2b2b" stroke-width="1.15"/>
<line x1="32.8" y1="364.6" x2="35" y2="364.6" stroke="#2b2b2b" stroke-width="0.9"/>
<text x="29.4" y="367.1" font-size="7.4" text-anchor="end" textLength="4.4" lengthAdjust="spacingAndGlyphs">0</text>
<line x1="32.8" y1="339.15" x2="35" y2="339.15" stroke="#2b2b2b" stroke-width="0.9"/>
<text x="29.4" y="341.65" font-size="7.4" text-anchor="end" textLength="4.4" lengthAdjust="spacingAndGlyphs">1</text>
<line x1="32.8" y1="313.7" x2="35" y2="313.7" stroke="#2b2b2b" stroke-width="0.9"/>
<text x="29.4" y="316.2" font-size="7.4" text-anchor="end" textLength="4.4" lengthAdjust="spacingAndGlyphs">2</text>
<line x1="32.8" y1="288.25" x2="35" y2="288.25" stroke="#2b2b2b" stroke-width="0.9"/>
<text x="29.4" y="290.75" font-size="7.4" text-anchor="end" textLength="4.4" lengthAdjust="spacingAndGlyphs">3</text>
<line x1="52.7" y1="364.6" x2="52.7" y2="366.6" stroke="#2b2b2b" stroke-width="0.8"/>
<line x1="78.1" y1="364.6" x2="78.1" y2="366.6" stroke="#2b2b2b" stroke-width="0.8"/>
<text transform="translate(20.7,325.3) rotate(-90)" x="0" y="0" font-size="8.6" font-weight="normal" text-anchor="middle" textLength="53.6" lengthAdjust="spacingAndGlyphs" fill="#1e1e1e" style="stroke-width:0.3px">%CD45.2<tspan font-size="4.6" dy="-2.3">+</tspan><tspan dy="2.3">/CD11c</tspan><tspan font-size="4.6" dy="-2.3">+</tspan></text>
<line x1="128.5" y1="287.7" x2="128.5" y2="365.05" stroke="#2b2b2b" stroke-width="1.15"/>
<line x1="128.5" y1="364.6" x2="189.7" y2="364.6" stroke="#2b2b2b" stroke-width="1.15"/>
<line x1="126.3" y1="364.6" x2="128.5" y2="364.6" stroke="#2b2b2b" stroke-width="0.9"/>
<text x="122.4" y="367.1" font-size="7.4" text-anchor="end" textLength="4.4" lengthAdjust="spacingAndGlyphs">0</text>
<line x1="126.3" y1="339.15" x2="128.5" y2="339.15" stroke="#2b2b2b" stroke-width="0.9"/>
<text x="122.4" y="341.65" font-size="7.4" text-anchor="end" textLength="4.4" lengthAdjust="spacingAndGlyphs">1</text>
<line x1="126.3" y1="313.7" x2="128.5" y2="313.7" stroke="#2b2b2b" stroke-width="0.9"/>
<text x="122.4" y="316.2" font-size="7.4" text-anchor="end" textLength="4.4" lengthAdjust="spacingAndGlyphs">2</text>
<line x1="126.3" y1="288.25" x2="128.5" y2="288.25" stroke="#2b2b2b" stroke-width="0.9"/>
<text x="122.4" y="290.75" font-size="7.4" text-anchor="end" textLength="4.4" lengthAdjust="spacingAndGlyphs">3</text>
<line x1="145.9" y1="364.6" x2="145.9" y2="366.6" stroke="#2b2b2b" stroke-width="0.8"/>
<line x1="172" y1="364.6" x2="172" y2="366.6" stroke="#2b2b2b" stroke-width="0.8"/>
<text transform="translate(114.1,325.3) rotate(-90)" x="0" y="0" font-size="8.6" font-weight="normal" text-anchor="middle" textLength="53.6" lengthAdjust="spacingAndGlyphs" fill="#1e1e1e" style="stroke-width:0.3px">%CD45.2<tspan font-size="4.6" dy="-2.3">+</tspan><tspan dy="2.3">/CD11c</tspan><tspan font-size="4.6" dy="-2.3">+</tspan></text>
<text x="52.6" y="377" font-size="7.3" text-anchor="middle">RT+</text>
<text x="52.6" y="385.9" font-size="7.3" text-anchor="middle">CART</text>
<text x="78.1" y="377" font-size="7.3" text-anchor="middle">RT+</text>
<text x="78.1" y="385.9" font-size="7.3" text-anchor="middle">CART</text>
<text x="78.1" y="394.8" font-size="7.3" text-anchor="middle">+H-151</text>
<text x="146" y="377" font-size="7.3" text-anchor="middle">RT+</text>
<text x="146" y="385.9" font-size="7.3" text-anchor="middle">CART</text>
<text x="172" y="377" font-size="7.3" text-anchor="middle">RT+</text>
<text x="172" y="385.9" font-size="7.3" text-anchor="middle">CART</text>
<text x="172" y="394.8" font-size="7.3" text-anchor="middle">+H-151</text>
<line x1="56" y1="300.7" x2="81.4" y2="300.7" stroke="#9a9a9a" stroke-width="1.4"/>
<circle cx="68.7" cy="296.2" r="0.95" fill="#222"/>
<line x1="148.3" y1="312.7" x2="172.8" y2="312.7" stroke="#9a9a9a" stroke-width="1.4"/>
<circle cx="157.4" cy="308.7" r="0.95" fill="#222"/>
<circle cx="160.4" cy="308.7" r="0.95" fill="#222"/>
<circle cx="163.4" cy="308.7" r="0.95" fill="#222"/>
<circle cx="52.9" cy="312.6" r="1.94" fill="#55aed3" stroke="#1a5068" stroke-width="1.05"/>
<circle cx="52.9" cy="323.3" r="1.94" fill="#55aed3" stroke="#1a5068" stroke-width="1.05"/>
<circle cx="48.9" cy="337.9" r="1.94" fill="#55aed3" stroke="#1a5068" stroke-width="1.05"/>
<circle cx="56.8" cy="341.3" r="1.94" fill="#55aed3" stroke="#1a5068" stroke-width="1.05"/>
<circle cx="48.9" cy="344.2" r="1.94" fill="#55aed3" stroke="#1a5068" stroke-width="1.05"/>
<circle cx="56.5" cy="347" r="1.94" fill="#55aed3" stroke="#1a5068" stroke-width="1.05"/>
<circle cx="52.9" cy="353.9" r="1.94" fill="#55aed3" stroke="#1a5068" stroke-width="1.05"/>
<line x1="44.3" y1="337.5" x2="61.3" y2="337.5" stroke="#2a2a2a" stroke-width="1"/>
<line x1="52.8" y1="332" x2="52.8" y2="342.6" stroke="#2a2a2a" stroke-width="0.8"/>
<line x1="49.6" y1="332" x2="56" y2="332" stroke="#2a2a2a" stroke-width="0.8"/>
<line x1="49.6" y1="342.6" x2="56" y2="342.6" stroke="#2a2a2a" stroke-width="0.8"/>
<circle cx="76.2" cy="344.2" r="1.94" fill="#f2cc3c" stroke="#866c12" stroke-width="1.05"/>
<circle cx="85.5" cy="347.6" r="1.94" fill="#f2cc3c" stroke="#866c12" stroke-width="1.05"/>
<circle cx="71.8" cy="350.5" r="1.94" fill="#f2cc3c" stroke="#866c12" stroke-width="1.05"/>
<circle cx="76.5" cy="351.3" r="1.94" fill="#f2cc3c" stroke="#866c12" stroke-width="1.05"/>
<circle cx="80.8" cy="351.3" r="1.94" fill="#f2cc3c" stroke="#866c12" stroke-width="1.05"/>
<circle cx="85.5" cy="351.7" r="1.94" fill="#f2cc3c" stroke="#866c12" stroke-width="1.05"/>
<circle cx="78.6" cy="355.5" r="1.94" fill="#f2cc3c" stroke="#866c12" stroke-width="1.05"/>
<line x1="70.4" y1="350.5" x2="84.6" y2="350.5" stroke="#2a2a2a" stroke-width="1"/>
<line x1="77.5" y1="349.6" x2="77.5" y2="352.2" stroke="#2a2a2a" stroke-width="0.8"/>
<line x1="75.5" y1="349.6" x2="79.5" y2="349.6" stroke="#2a2a2a" stroke-width="0.8"/>
<line x1="75.5" y1="352.2" x2="79.5" y2="352.2" stroke="#2a2a2a" stroke-width="0.8"/>
<circle cx="146" cy="331.2" r="1.94" fill="#55aed3" stroke="#1a5068" stroke-width="1.05"/>
<circle cx="138.9" cy="335.5" r="1.94" fill="#55aed3" stroke="#1a5068" stroke-width="1.05"/>
<circle cx="153.1" cy="336" r="1.94" fill="#55aed3" stroke="#1a5068" stroke-width="1.05"/>
<circle cx="146" cy="337.5" r="1.94" fill="#55aed3" stroke="#1a5068" stroke-width="1.05"/>
<circle cx="146" cy="342.9" r="1.94" fill="#55aed3" stroke="#1a5068" stroke-width="1.05"/>
<circle cx="138.9" cy="345.4" r="1.94" fill="#55aed3" stroke="#1a5068" stroke-width="1.05"/>
<circle cx="153.1" cy="344.5" r="1.94" fill="#55aed3" stroke="#1a5068" stroke-width="1.05"/>
<line x1="137.3" y1="339.5" x2="154.9" y2="339.5" stroke="#2a2a2a" stroke-width="1"/>
<line x1="146.1" y1="337.4" x2="146.1" y2="341.4" stroke="#2a2a2a" stroke-width="0.8"/>
<line x1="143.5" y1="337.4" x2="148.7" y2="337.4" stroke="#2a2a2a" stroke-width="0.8"/>
<line x1="143.5" y1="341.4" x2="148.7" y2="341.4" stroke="#2a2a2a" stroke-width="0.8"/>
<circle cx="175.5" cy="344.2" r="1.94" fill="#f2cc3c" stroke="#866c12" stroke-width="1.05"/>
<circle cx="172" cy="346.1" r="1.94" fill="#f2cc3c" stroke="#866c12" stroke-width="1.05"/>
<circle cx="165.2" cy="351.3" r="1.94" fill="#f2cc3c" stroke="#866c12" stroke-width="1.05"/>
<circle cx="168.8" cy="350.2" r="1.94" fill="#f2cc3c" stroke="#866c12" stroke-width="1.05"/>
<circle cx="172" cy="351.3" r="1.94" fill="#f2cc3c" stroke="#866c12" stroke-width="1.05"/>
<circle cx="175.5" cy="350.5" r="1.94" fill="#f2cc3c" stroke="#866c12" stroke-width="1.05"/>
<circle cx="178.9" cy="352" r="1.94" fill="#f2cc3c" stroke="#866c12" stroke-width="1.05"/>
<line x1="163.6" y1="349.5" x2="180.4" y2="349.5" stroke="#2a2a2a" stroke-width="1"/>
<line x1="172" y1="348.3" x2="172" y2="351.2" stroke="#2a2a2a" stroke-width="0.8"/>
<line x1="170" y1="348.3" x2="174" y2="348.3" stroke="#2a2a2a" stroke-width="0.8"/>
<line x1="170" y1="351.2" x2="174" y2="351.2" stroke="#2a2a2a" stroke-width="0.8"/>
<text x="204.6" y="270.9" font-size="10.5" font-weight="bold">F</text>
<text x="293.3" y="280.4" font-size="8.5" text-anchor="middle">Tumor Cell Suspension</text>
<line x1="245.2" y1="286.2" x2="245.2" y2="309.5" stroke="#2b2b2b" stroke-width="1.15"/>
<line x1="243" y1="288.6" x2="245.2" y2="288.6" stroke="#2b2b2b" stroke-width="0.9"/>
<text x="239.1" y="290.85" font-size="6.6" text-anchor="end" textLength="12.9" lengthAdjust="spacingAndGlyphs">400</text>
<line x1="243" y1="298.8" x2="245.2" y2="298.8" stroke="#2b2b2b" stroke-width="0.9"/>
<text x="239.1" y="301.05" font-size="6.6" text-anchor="end" textLength="12.9" lengthAdjust="spacingAndGlyphs">300</text>
<line x1="243" y1="309.2" x2="245.2" y2="309.2" stroke="#2b2b2b" stroke-width="0.9"/>
<text x="239.1" y="311.45" font-size="6.6" text-anchor="end" textLength="12.9" lengthAdjust="spacingAndGlyphs">200</text>
<line x1="245.2" y1="315.6" x2="245.2" y2="365.05" stroke="#555" stroke-width="1.4"/>
<line x1="243.6" y1="315.6" x2="246.8" y2="315.6" stroke="#2b2b2b" stroke-width="0.9"/>
<line x1="243" y1="315.6" x2="245.2" y2="315.6" stroke="#2b2b2b" stroke-width="0.9"/>
<text x="239.1" y="317.85" font-size="6.6" text-anchor="end" textLength="12.9" lengthAdjust="spacingAndGlyphs">150</text>
<line x1="243" y1="331.9" x2="245.2" y2="331.9" stroke="#2b2b2b" stroke-width="0.9"/>
<text x="239.1" y="334.15" font-size="6.6" text-anchor="end" textLength="12.9" lengthAdjust="spacingAndGlyphs">100</text>
<line x1="243" y1="348.2" x2="245.2" y2="348.2" stroke="#2b2b2b" stroke-width="0.9"/>
<text x="239.1" y="350.45" font-size="6.6" text-anchor="end" textLength="8.6" lengthAdjust="spacingAndGlyphs">50</text>
<line x1="243" y1="364.6" x2="245.2" y2="364.6" stroke="#2b2b2b" stroke-width="0.9"/>
<text x="239.1" y="366.85" font-size="6.6" text-anchor="end" textLength="4.3" lengthAdjust="spacingAndGlyphs">0</text>
<line x1="245.2" y1="364.6" x2="340.8" y2="364.6" stroke="#2b2b2b" stroke-width="1.15"/>
<line x1="251.5" y1="364.6" x2="251.5" y2="366.6" stroke="#2b2b2b" stroke-width="0.8"/>
<line x1="260.3" y1="364.6" x2="260.3" y2="366.6" stroke="#2b2b2b" stroke-width="0.8"/>
<line x1="269.2" y1="364.6" x2="269.2" y2="366.6" stroke="#2b2b2b" stroke-width="0.8"/>
<line x1="278.5" y1="364.6" x2="278.5" y2="366.6" stroke="#2b2b2b" stroke-width="0.8"/>
<line x1="288.1" y1="364.6" x2="288.1" y2="366.6" stroke="#2b2b2b" stroke-width="0.8"/>
<line x1="297.3" y1="364.6" x2="297.3" y2="366.6" stroke="#2b2b2b" stroke-width="0.8"/>
<line x1="306.8" y1="364.6" x2="306.8" y2="366.6" stroke="#2b2b2b" stroke-width="0.8"/>
<line x1="315.8" y1="364.6" x2="315.8" y2="366.6" stroke="#2b2b2b" stroke-width="0.8"/>
<line x1="325.3" y1="364.6" x2="325.3" y2="366.6" stroke="#2b2b2b" stroke-width="0.8"/>
<line x1="334.1" y1="364.6" x2="334.1" y2="366.6" stroke="#2b2b2b" stroke-width="0.8"/>
<text transform="translate(220.8,321.6) rotate(-90)" x="0" y="0" font-size="8.6" font-weight="normal" text-anchor="middle" textLength="59" lengthAdjust="spacingAndGlyphs" fill="#1e1e1e" style="stroke-width:0.3px">Number of IFN-<tspan font-family="Liberation Serif" font-style="italic">γ</tspan> spots</text>
<line x1="248.9" y1="370.7" x2="263" y2="370.7" stroke="#7a7a7a" stroke-width="1.2"/>
<line x1="266.6" y1="370.7" x2="281.4" y2="370.7" stroke="#7a7a7a" stroke-width="1.2"/>
<line x1="285.2" y1="370.7" x2="299.8" y2="370.7" stroke="#7a7a7a" stroke-width="1.2"/>
<line x1="303.7" y1="370.7" x2="318.2" y2="370.7" stroke="#7a7a7a" stroke-width="1.2"/>
<line x1="322" y1="370.7" x2="336.8" y2="370.7" stroke="#7a7a7a" stroke-width="1.2"/>
<text x="225.4" y="380.3" font-size="7.4" text-anchor="middle" textLength="40.9" lengthAdjust="spacingAndGlyphs">AH1 peptide</text>
<line x1="253.7" y1="378" x2="257.9" y2="378" stroke="#2a2a2a" stroke-width="0.9"/>
<line x1="255.8" y1="375.9" x2="255.8" y2="380.1" stroke="#2a2a2a" stroke-width="0.9"/>
<line x1="272.2" y1="378" x2="276.4" y2="378" stroke="#2a2a2a" stroke-width="0.9"/>
<line x1="274.3" y1="375.9" x2="274.3" y2="380.1" stroke="#2a2a2a" stroke-width="0.9"/>
<line x1="290.6" y1="378" x2="294.8" y2="378" stroke="#2a2a2a" stroke-width="0.9"/>
<line x1="292.7" y1="375.9" x2="292.7" y2="380.1" stroke="#2a2a2a" stroke-width="0.9"/>
<line x1="309" y1="378" x2="313.2" y2="378" stroke="#2a2a2a" stroke-width="0.9"/>
<line x1="311.1" y1="375.9" x2="311.1" y2="380.1" stroke="#2a2a2a" stroke-width="0.9"/>
<line x1="327.6" y1="378" x2="331.8" y2="378" stroke="#2a2a2a" stroke-width="0.85"/>
<text x="225.4" y="391.3" font-size="7.4" text-anchor="middle" textLength="33.4" lengthAdjust="spacingAndGlyphs">anti-MHCI</text>
<line x1="253.7" y1="389.2" x2="257.9" y2="389.2" stroke="#2a2a2a" stroke-width="0.85"/>
<line x1="272.2" y1="389.2" x2="276.4" y2="389.2" stroke="#2a2a2a" stroke-width="0.9"/>
<line x1="274.3" y1="387.1" x2="274.3" y2="391.3" stroke="#2a2a2a" stroke-width="0.9"/>
<line x1="290.6" y1="389.2" x2="294.8" y2="389.2" stroke="#2a2a2a" stroke-width="0.85"/>
<line x1="309" y1="389.2" x2="313.2" y2="389.2" stroke="#2a2a2a" stroke-width="0.9"/>
<line x1="311.1" y1="387.1" x2="311.1" y2="391.3" stroke="#2a2a2a" stroke-width="0.9"/>
<line x1="327.6" y1="389.2" x2="331.8" y2="389.2" stroke="#2a2a2a" stroke-width="0.85"/>
<text x="225.4" y="402.3" font-size="7.4" text-anchor="middle" textLength="41.5" lengthAdjust="spacingAndGlyphs">aCD3/CD28</text>
<line x1="253.7" y1="400.4" x2="257.9" y2="400.4" stroke="#2a2a2a" stroke-width="0.85"/>
<line x1="272.2" y1="400.4" x2="276.4" y2="400.4" stroke="#2a2a2a" stroke-width="0.85"/>
<line x1="290.6" y1="400.4" x2="294.8" y2="400.4" stroke="#2a2a2a" stroke-width="0.85"/>
<line x1="309" y1="400.4" x2="313.2" y2="400.4" stroke="#2a2a2a" stroke-width="0.85"/>
<line x1="327.6" y1="400.4" x2="331.8" y2="400.4" stroke="#2a2a2a" stroke-width="0.9"/>
<line x1="329.7" y1="398.3" x2="329.7" y2="402.5" stroke="#2a2a2a" stroke-width="0.9"/>
<line x1="248.9" y1="407.3" x2="280.9" y2="407.3" stroke="#7a7a7a" stroke-width="1.2"/>
<line x1="285.2" y1="407.3" x2="317.4" y2="407.3" stroke="#7a7a7a" stroke-width="1.2"/>
<text x="264.6" y="417" font-size="7.4" text-anchor="middle">Irradiated</text>
<text x="264.6" y="426.5" font-size="7.4" text-anchor="middle">Tumor</text>
<text x="301.4" y="417" font-size="7.4" text-anchor="middle">Non-</text>
<text x="301.4" y="426.5" font-size="7.4" text-anchor="middle">Irradiated</text>
<text x="301.4" y="436" font-size="7.4" text-anchor="middle">Tumor</text>
<path d="M249.2,300.1 V298.9 H269.8 V300.1" stroke="#6a6a6a" stroke-width="0.75" fill="none"/>
<circle cx="258.1" cy="294.7" r="0.95" fill="#222"/>
<circle cx="260.9" cy="294.7" r="0.95" fill="#222"/>
<path d="M249.2,308.5 V307.3 H259.2 V308.5" stroke="#6a6a6a" stroke-width="0.75" fill="none"/>
<path d="M259.2,308.5 V307.3 H279.4 V308.5" stroke="#6a6a6a" stroke-width="0.75" fill="none"/>
<circle cx="254" cy="303.1" r="0.95" fill="#222"/>
<circle cx="265.4" cy="303.2" r="0.95" fill="#222"/>
<circle cx="268.2" cy="303.2" r="0.95" fill="#222"/>
<circle cx="271" cy="303.2" r="0.95" fill="#222"/>
<circle cx="273.8" cy="303.2" r="0.95" fill="#222"/>
<path d="M287.1,300.1 V298.9 H307.3 V300.1" stroke="#6a6a6a" stroke-width="0.75" fill="none"/>
<circle cx="295.4" cy="294.7" r="0.95" fill="#222"/>
<circle cx="298.2" cy="294.7" r="0.95" fill="#222"/>
<path d="M287.1,308.5 V307.3 H297.7 V308.5" stroke="#6a6a6a" stroke-width="0.75" fill="none"/>
<path d="M297.7,308.5 V307.3 H318.4 V308.5" stroke="#6a6a6a" stroke-width="0.75" fill="none"/>
<circle cx="292.2" cy="303.1" r="0.95" fill="#222"/>
<circle cx="308.3" cy="303.1" r="0.95" fill="#222"/>
<circle cx="250.1" cy="327.6" r="1.85" fill="#55aed3" stroke="#1a5068" stroke-width="1.05"/>
<circle cx="251.5" cy="329.6" r="1.85" fill="#55aed3" stroke="#1a5068" stroke-width="1.05"/>
<circle cx="252.2" cy="331.6" r="1.85" fill="#55aed3" stroke="#1a5068" stroke-width="1.05"/>
<circle cx="250.8" cy="347.8" r="1.85" fill="#55aed3" stroke="#1a5068" stroke-width="1.05"/>
<circle cx="251.5" cy="349.9" r="1.85" fill="#55aed3" stroke="#1a5068" stroke-width="1.05"/>
<circle cx="250.1" cy="351.9" r="1.85" fill="#55aed3" stroke="#1a5068" stroke-width="1.05"/>
<circle cx="250.8" cy="354.6" r="1.85" fill="#55aed3" stroke="#1a5068" stroke-width="1.05"/>
<line x1="248.4" y1="345.5" x2="254.6" y2="345.5" stroke="#2a2a2a" stroke-width="1"/>
<line x1="251.5" y1="341.8" x2="251.5" y2="349.2" stroke="#2a2a2a" stroke-width="0.8"/>
<line x1="249.9" y1="341.8" x2="253.1" y2="341.8" stroke="#2a2a2a" stroke-width="0.8"/>
<line x1="249.9" y1="349.2" x2="253.1" y2="349.2" stroke="#2a2a2a" stroke-width="0.8"/>
<circle cx="259.6" cy="355" r="1.85" fill="#f2cc3c" stroke="#866c12" stroke-width="1.05"/>
<circle cx="261" cy="356.5" r="1.85" fill="#f2cc3c" stroke="#866c12" stroke-width="1.05"/>
<circle cx="259.6" cy="358" r="1.85" fill="#f2cc3c" stroke="#866c12" stroke-width="1.05"/>
<circle cx="261" cy="359.5" r="1.85" fill="#f2cc3c" stroke="#866c12" stroke-width="1.05"/>
<circle cx="260.3" cy="361" r="1.85" fill="#f2cc3c" stroke="#866c12" stroke-width="1.05"/>
<path d="M266.8,351.54 L271.2,351.54 L269,355.28 Z" fill="#55aed3" stroke="#1a5068" stroke-width="0.8"/>
<path d="M266.2,354.24 L270.6,354.24 L268.4,357.98 Z" fill="#55aed3" stroke="#1a5068" stroke-width="0.8"/>
<path d="M267.8,356.74 L272.2,356.74 L270,360.48 Z" fill="#55aed3" stroke="#1a5068" stroke-width="0.8"/>
<path d="M266.8,359.24 L271.2,359.24 L269,362.98 Z" fill="#55aed3" stroke="#1a5068" stroke-width="0.8"/>
<path d="M266.4,361.24 L270.8,361.24 L268.6,364.98 Z" fill="#55aed3" stroke="#1a5068" stroke-width="0.8"/>
<path d="M276.3,360.36 L280.7,360.36 L278.5,356.62 Z" fill="#f2cc3c" stroke="#866c12" stroke-width="0.8"/>
<path d="M275.8,362.56 L280.2,362.56 L278,358.82 Z" fill="#f2cc3c" stroke="#866c12" stroke-width="0.8"/>
<path d="M276.8,364.16 L281.2,364.16 L279,360.42 Z" fill="#f2cc3c" stroke="#866c12" stroke-width="0.8"/>
<path d="M276.3,365.36 L280.7,365.36 L278.5,361.62 Z" fill="#f2cc3c" stroke="#866c12" stroke-width="0.8"/>
<circle cx="288.1" cy="320.5" r="1.85" fill="#55aed3" stroke="#1a5068" stroke-width="1.05"/>
<circle cx="286.8" cy="332.3" r="1.85" fill="#55aed3" stroke="#1a5068" stroke-width="1.05"/>
<circle cx="289.7" cy="332.3" r="1.85" fill="#55aed3" stroke="#1a5068" stroke-width="1.05"/>
<circle cx="288.1" cy="333.6" r="1.85" fill="#55aed3" stroke="#1a5068" stroke-width="1.05"/>
<circle cx="288.1" cy="342.4" r="1.85" fill="#55aed3" stroke="#1a5068" stroke-width="1.05"/>
<circle cx="286.8" cy="348.5" r="1.85" fill="#55aed3" stroke="#1a5068" stroke-width="1.05"/>
<circle cx="289.7" cy="350.3" r="1.85" fill="#55aed3" stroke="#1a5068" stroke-width="1.05"/>
<circle cx="287" cy="353" r="1.85" fill="#55aed3" stroke="#1a5068" stroke-width="1.05"/>
<line x1="285.3" y1="340.5" x2="291.5" y2="340.5" stroke="#2a2a2a" stroke-width="1"/>
<line x1="288.4" y1="336.3" x2="288.4" y2="344" stroke="#2a2a2a" stroke-width="0.8"/>
<line x1="286.8" y1="336.3" x2="290" y2="336.3" stroke="#2a2a2a" stroke-width="0.8"/>
<line x1="286.8" y1="344" x2="290" y2="344" stroke="#2a2a2a" stroke-width="0.8"/>
<circle cx="298.9" cy="341.8" r="1.85" fill="#f2cc3c" stroke="#866c12" stroke-width="1.05"/>
<circle cx="296.5" cy="344.9" r="1.85" fill="#f2cc3c" stroke="#866c12" stroke-width="1.05"/>
<circle cx="296.5" cy="350.5" r="1.85" fill="#f2cc3c" stroke="#866c12" stroke-width="1.05"/>
<circle cx="298.9" cy="353" r="1.85" fill="#f2cc3c" stroke="#866c12" stroke-width="1.05"/>
<circle cx="296.5" cy="355.3" r="1.85" fill="#f2cc3c" stroke="#866c12" stroke-width="1.05"/>
<circle cx="298.9" cy="358" r="1.85" fill="#f2cc3c" stroke="#866c12" stroke-width="1.05"/>
<circle cx="296.5" cy="360.3" r="1.85" fill="#f2cc3c" stroke="#866c12" stroke-width="1.05"/>
<path d="M304.6,350.44 L309,350.44 L306.8,354.18 Z" fill="#55aed3" stroke="#1a5068" stroke-width="0.8"/>
<path d="M303.8,357.54 L308.2,357.54 L306,361.28 Z" fill="#55aed3" stroke="#1a5068" stroke-width="0.8"/>
<path d="M305.5,358.94 L309.9,358.94 L307.7,362.68 Z" fill="#55aed3" stroke="#1a5068" stroke-width="0.8"/>
<path d="M304.6,360.94 L309,360.94 L306.8,364.68 Z" fill="#55aed3" stroke="#1a5068" stroke-width="0.8"/>
<path d="M313.6,355.66 L318,355.66 L315.8,351.92 Z" fill="#f2cc3c" stroke="#866c12" stroke-width="0.8"/>
<path d="M313.6,358.36 L318,358.36 L315.8,354.62 Z" fill="#f2cc3c" stroke="#866c12" stroke-width="0.8"/>
<path d="M312.7,361.06 L317.1,361.06 L314.9,357.32 Z" fill="#f2cc3c" stroke="#866c12" stroke-width="0.8"/>
<path d="M314.3,362.86 L318.7,362.86 L316.5,359.12 Z" fill="#f2cc3c" stroke="#866c12" stroke-width="0.8"/>
<path d="M313.6,365.16 L318,365.16 L315.8,361.42 Z" fill="#f2cc3c" stroke="#866c12" stroke-width="0.8"/>
<path d="M323.7,317.85 L325.75,319.9 L323.7,321.95 L321.65,319.9 Z" fill="#80bde0" stroke="#1d3f62" stroke-width="0.95"/>
<path d="M326.7,317.25 L328.75,319.3 L326.7,321.35 L324.65,319.3 Z" fill="#80bde0" stroke="#1d3f62" stroke-width="0.95"/>
<path d="M326.2,296.25 L328.25,298.3 L326.2,300.35 L324.15,298.3 Z" fill="#80bde0" stroke="#1d3f62" stroke-width="0.95"/>
<path d="M324,298.25 L326.05,300.3 L324,302.35 L321.95,300.3 Z" fill="#80bde0" stroke="#1d3f62" stroke-width="0.95"/>
<path d="M326.2,300.45 L328.25,302.5 L326.2,304.55 L324.15,302.5 Z" fill="#80bde0" stroke="#1d3f62" stroke-width="0.95"/>
<path d="M324.6,302.75 L326.65,304.8 L324.6,306.85 L322.55,304.8 Z" fill="#80bde0" stroke="#1d3f62" stroke-width="0.95"/>
<line x1="322.6" y1="306.5" x2="327.8" y2="306.5" stroke="#2a2a2a" stroke-width="1"/>
<line x1="325.2" y1="306" x2="325.2" y2="309.6" stroke="#2a2a2a" stroke-width="0.8"/>
<line x1="325.2" y1="306" x2="325.2" y2="306" stroke="#2a2a2a" stroke-width="0.8"/>
<line x1="325.2" y1="309.6" x2="325.2" y2="309.6" stroke="#2a2a2a" stroke-width="0.8"/>
<path d="M334.4,303.75 L336.45,305.8 L334.4,307.85 L332.35,305.8 Z" fill="#e3c23a" stroke="#5f4c0e" stroke-width="0.95"/>
<line x1="331.1" y1="333.5" x2="337.3" y2="333.5" stroke="#2a2a2a" stroke-width="1"/>
<line x1="334.2" y1="324.6" x2="334.2" y2="340.7" stroke="#2a2a2a" stroke-width="0.8"/>
<line x1="333" y1="324.6" x2="335.4" y2="324.6" stroke="#2a2a2a" stroke-width="0.8"/>
<line x1="333" y1="340.7" x2="335.4" y2="340.7" stroke="#2a2a2a" stroke-width="0.8"/>
<path d="M334.6,325.75 L336.65,327.8 L334.6,329.85 L332.55,327.8 Z" fill="#e3c23a" stroke="#5f4c0e" stroke-width="0.95"/>
<path d="M332.9,327.95 L334.95,330 L332.9,332.05 L330.85,330 Z" fill="#e3c23a" stroke="#5f4c0e" stroke-width="0.95"/>
<path d="M334.1,340.35 L336.15,342.4 L334.1,344.45 L332.05,342.4 Z" fill="#e3c23a" stroke="#5f4c0e" stroke-width="0.95"/>
<path d="M334.1,343.75 L336.15,345.8 L334.1,347.85 L332.05,345.8 Z" fill="#e3c23a" stroke="#5f4c0e" stroke-width="0.95"/>
<path d="M334.1,353.35 L336.15,355.4 L334.1,357.45 L332.05,355.4 Z" fill="#fff" stroke="#5f4c0e" stroke-width="0.95"/>
<text x="355.6" y="270.9" font-size="10.5" font-weight="bold">G</text>
<text x="433.6" y="269.8" font-size="8.5" text-anchor="middle">Spleen Cell</text>
<text x="433.6" y="280.5" font-size="8.5" text-anchor="middle">Suspension</text>
<line x1="395.3" y1="286.2" x2="395.3" y2="309.5" stroke="#2b2b2b" stroke-width="1.15"/>
<line x1="393.1" y1="288.6" x2="395.3" y2="288.6" stroke="#2b2b2b" stroke-width="0.9"/>
<text x="389.1" y="290.85" font-size="6.6" text-anchor="end" textLength="12.9" lengthAdjust="spacingAndGlyphs">500</text>
<line x1="393.1" y1="301.4" x2="395.3" y2="301.4" stroke="#2b2b2b" stroke-width="0.9"/>
<text x="389.1" y="303.65" font-size="6.6" text-anchor="end" textLength="12.9" lengthAdjust="spacingAndGlyphs">250</text>
<line x1="393.1" y1="309.5" x2="395.3" y2="309.5" stroke="#2b2b2b" stroke-width="0.9"/>
<line x1="395.3" y1="315.6" x2="395.3" y2="365.05" stroke="#555" stroke-width="1.4"/>
<line x1="393.7" y1="315.6" x2="396.9" y2="315.6" stroke="#2b2b2b" stroke-width="0.9"/>
<line x1="393.1" y1="315.9" x2="395.3" y2="315.9" stroke="#2b2b2b" stroke-width="0.9"/>
<text x="389.1" y="318.15" font-size="6.6" text-anchor="end" textLength="8.6" lengthAdjust="spacingAndGlyphs">80</text>
<line x1="393.1" y1="328.1" x2="395.3" y2="328.1" stroke="#2b2b2b" stroke-width="0.9"/>
<text x="389.1" y="330.35" font-size="6.6" text-anchor="end" textLength="8.6" lengthAdjust="spacingAndGlyphs">60</text>
<line x1="393.1" y1="340.3" x2="395.3" y2="340.3" stroke="#2b2b2b" stroke-width="0.9"/>
<text x="389.1" y="342.55" font-size="6.6" text-anchor="end" textLength="8.6" lengthAdjust="spacingAndGlyphs">40</text>
<line x1="393.1" y1="352.4" x2="395.3" y2="352.4" stroke="#2b2b2b" stroke-width="0.9"/>
<text x="389.1" y="354.65" font-size="6.6" text-anchor="end" textLength="8.6" lengthAdjust="spacingAndGlyphs">20</text>
<line x1="393.1" y1="364.6" x2="395.3" y2="364.6" stroke="#2b2b2b" stroke-width="0.9"/>
<text x="389.1" y="366.85" font-size="6.6" text-anchor="end" textLength="4.3" lengthAdjust="spacingAndGlyphs">0</text>
<line x1="395.3" y1="364.6" x2="467" y2="364.6" stroke="#2b2b2b" stroke-width="1.15"/>
<line x1="403.5" y1="364.6" x2="403.5" y2="366.6" stroke="#2b2b2b" stroke-width="0.8"/>
<line x1="415.4" y1="364.6" x2="415.4" y2="366.6" stroke="#2b2b2b" stroke-width="0.8"/>
<line x1="426.9" y1="364.6" x2="426.9" y2="366.6" stroke="#2b2b2b" stroke-width="0.8"/>
<line x1="439.2" y1="364.6" x2="439.2" y2="366.6" stroke="#2b2b2b" stroke-width="0.8"/>
<line x1="451.3" y1="364.6" x2="451.3" y2="366.6" stroke="#2b2b2b" stroke-width="0.8"/>
<line x1="463.2" y1="364.6" x2="463.2" y2="366.6" stroke="#2b2b2b" stroke-width="0.8"/>
<text transform="translate(371.4,321.6) rotate(-90)" x="0" y="0" font-size="8.6" font-weight="normal" text-anchor="middle" textLength="59" lengthAdjust="spacingAndGlyphs" fill="#1e1e1e" style="stroke-width:0.3px">Number of IFN-<tspan font-family="Liberation Serif" font-style="italic">γ</tspan> spots</text>
<line x1="399.4" y1="370.7" x2="417.8" y2="370.7" stroke="#7a7a7a" stroke-width="1.2"/>
<line x1="423.6" y1="370.7" x2="442.3" y2="370.7" stroke="#7a7a7a" stroke-width="1.2"/>
<line x1="447.9" y1="370.7" x2="466.6" y2="370.7" stroke="#7a7a7a" stroke-width="1.2"/>
<text x="376.4" y="380.3" font-size="7.4" text-anchor="middle" textLength="40.9" lengthAdjust="spacingAndGlyphs">AH1 peptide</text>
<line x1="406.3" y1="378" x2="410.5" y2="378" stroke="#2a2a2a" stroke-width="0.9"/>
<line x1="408.4" y1="375.9" x2="408.4" y2="380.1" stroke="#2a2a2a" stroke-width="0.9"/>
<line x1="430.8" y1="378" x2="435" y2="378" stroke="#2a2a2a" stroke-width="0.9"/>
<line x1="432.9" y1="375.9" x2="432.9" y2="380.1" stroke="#2a2a2a" stroke-width="0.9"/>
<line x1="455.2" y1="378" x2="459.4" y2="378" stroke="#2a2a2a" stroke-width="0.85"/>
<text x="376.4" y="391.3" font-size="7.4" text-anchor="middle" textLength="33.4" lengthAdjust="spacingAndGlyphs">anti-MHCI</text>
<line x1="406.3" y1="389.2" x2="410.5" y2="389.2" stroke="#2a2a2a" stroke-width="0.85"/>
<line x1="430.8" y1="389.2" x2="435" y2="389.2" stroke="#2a2a2a" stroke-width="0.9"/>
<line x1="432.9" y1="387.1" x2="432.9" y2="391.3" stroke="#2a2a2a" stroke-width="0.9"/>
<line x1="455.2" y1="389.2" x2="459.4" y2="389.2" stroke="#2a2a2a" stroke-width="0.85"/>
<text x="376.4" y="402.3" font-size="7.4" text-anchor="middle" textLength="41.5" lengthAdjust="spacingAndGlyphs">aCD3/CD28</text>
<line x1="406.3" y1="400.4" x2="410.5" y2="400.4" stroke="#2a2a2a" stroke-width="0.85"/>
<line x1="430.8" y1="400.4" x2="435" y2="400.4" stroke="#2a2a2a" stroke-width="0.85"/>
<line x1="455.2" y1="400.4" x2="459.4" y2="400.4" stroke="#2a2a2a" stroke-width="0.9"/>
<line x1="457.3" y1="398.3" x2="457.3" y2="402.5" stroke="#2a2a2a" stroke-width="0.9"/>
<path d="M400.2,297 V295.4 H427.7 V297" stroke="#6a6a6a" stroke-width="0.75" fill="none"/>
<circle cx="412.3" cy="291.3" r="0.95" fill="#222"/>
<circle cx="415.1" cy="291.3" r="0.95" fill="#222"/>
<path d="M400.2,304.7 V303.1 H414.2 V304.7" stroke="#6a6a6a" stroke-width="0.75" fill="none"/>
<circle cx="407.3" cy="298.9" r="0.95" fill="#222"/>
<circle cx="476.6" cy="289.2" r="1.94" fill="#55aed3" stroke="#1a5068" stroke-width="1.05"/>
<circle cx="476.6" cy="300.4" r="1.94" fill="#f2cc3c" stroke="#866c12" stroke-width="1.05"/>
<text x="481.2" y="291.7" font-size="7.1">RT+CART</text>
<text x="481.2" y="302.5" font-size="7.1">RT+CART</text>
<text x="481.4" y="310.5" font-size="7.1">+H-151</text>
<circle cx="405.4" cy="324.6" r="1.85" fill="#55aed3" stroke="#1a5068" stroke-width="1.05"/>
<circle cx="403.1" cy="327.7" r="1.85" fill="#55aed3" stroke="#1a5068" stroke-width="1.05"/>
<circle cx="403.5" cy="337.4" r="1.85" fill="#55aed3" stroke="#1a5068" stroke-width="1.05"/>
<circle cx="403.5" cy="351.5" r="1.85" fill="#55aed3" stroke="#1a5068" stroke-width="1.05"/>
<circle cx="401.1" cy="355.4" r="1.85" fill="#55aed3" stroke="#1a5068" stroke-width="1.05"/>
<circle cx="405.4" cy="355.4" r="1.85" fill="#55aed3" stroke="#1a5068" stroke-width="1.05"/>
<line x1="400.1" y1="346.5" x2="406.9" y2="346.5" stroke="#2a2a2a" stroke-width="1"/>
<line x1="403.5" y1="345" x2="403.5" y2="349" stroke="#2a2a2a" stroke-width="0.8"/>
<line x1="401.9" y1="345" x2="405.1" y2="345" stroke="#2a2a2a" stroke-width="0.8"/>
<line x1="401.9" y1="349" x2="405.1" y2="349" stroke="#2a2a2a" stroke-width="0.8"/>
<circle cx="415.4" cy="340.8" r="1.85" fill="#f2cc3c" stroke="#866c12" stroke-width="1.05"/>
<circle cx="413.1" cy="359.2" r="1.85" fill="#f2cc3c" stroke="#866c12" stroke-width="1.05"/>
<circle cx="417.4" cy="360" r="1.85" fill="#f2cc3c" stroke="#866c12" stroke-width="1.05"/>
<circle cx="415.4" cy="362.3" r="1.85" fill="#f2cc3c" stroke="#866c12" stroke-width="1.05"/>
<circle cx="413.1" cy="364.2" r="1.85" fill="#f2cc3c" stroke="#866c12" stroke-width="1.05"/>
<circle cx="417.4" cy="363.6" r="1.85" fill="#f2cc3c" stroke="#866c12" stroke-width="1.05"/>
<path d="M427.5,349.74 L431.9,349.74 L429.7,353.48 Z" fill="#55aed3" stroke="#1a5068" stroke-width="0.8"/>
<path d="M423.2,352.84 L427.6,352.84 L425.4,356.58 Z" fill="#55aed3" stroke="#1a5068" stroke-width="0.8"/>
<path d="M427.5,354.44 L431.9,354.44 L429.7,358.18 Z" fill="#55aed3" stroke="#1a5068" stroke-width="0.8"/>
<path d="M423.2,358.24 L427.6,358.24 L425.4,361.98 Z" fill="#55aed3" stroke="#1a5068" stroke-width="0.8"/>
<path d="M427.5,359.04 L431.9,359.04 L429.7,362.78 Z" fill="#55aed3" stroke="#1a5068" stroke-width="0.8"/>
<path d="M425.5,361.24 L429.9,361.24 L427.7,364.98 Z" fill="#55aed3" stroke="#1a5068" stroke-width="0.8"/>
<path d="M436.3,364.76 L440.7,364.76 L438.5,361.02 Z" fill="#f2cc3c" stroke="#866c12" stroke-width="0.8"/>
<path d="M438.6,365.36 L443,365.36 L440.8,361.62 Z" fill="#f2cc3c" stroke="#866c12" stroke-width="0.8"/>
<path d="M437.3,363.76 L441.7,363.76 L439.5,360.02 Z" fill="#f2cc3c" stroke="#866c12" stroke-width="0.8"/>
<path d="M451.5,291.8 L453.8,294.1 L451.5,296.4 L449.2,294.1 Z" fill="#80bde0" stroke="#1d3f62" stroke-width="0.95"/>
<path d="M449.5,296.2 L451.8,298.5 L449.5,300.8 L447.2,298.5 Z" fill="#80bde0" stroke="#1d3f62" stroke-width="0.95"/>
<path d="M453.9,296.2 L456.2,298.5 L453.9,300.8 L451.6,298.5 Z" fill="#80bde0" stroke="#1d3f62" stroke-width="0.95"/>
<path d="M453.9,300.3 L456.2,302.6 L453.9,304.9 L451.6,302.6 Z" fill="#80bde0" stroke="#1d3f62" stroke-width="0.95"/>
<path d="M449.5,301.6 L451.8,303.9 L449.5,306.2 L447.2,303.9 Z" fill="#80bde0" stroke="#1d3f62" stroke-width="0.95"/>
<path d="M449.5,305.7 L451.8,308 L449.5,310.3 L447.2,308 Z" fill="#80bde0" stroke="#1d3f62" stroke-width="0.95"/>
<path d="M453.9,305.7 L456.2,308 L453.9,310.3 L451.6,308 Z" fill="#80bde0" stroke="#1d3f62" stroke-width="0.95"/>
<line x1="447.8" y1="298.6" x2="455.6" y2="298.6" stroke="#1c3f55" stroke-width="0.8"/>
<path d="M463.3,290.5 L465.6,292.8 L463.3,295.1 L461,292.8 Z" fill="#e3c23a" stroke="#5f4c0e" stroke-width="0.95"/>
<path d="M465.3,289.1 L467.6,291.4 L465.3,293.7 L463,291.4 Z" fill="#e3c23a" stroke="#5f4c0e" stroke-width="0.95"/>
<path d="M465.3,295.9 L467.6,298.2 L465.3,300.5 L463,298.2 Z" fill="#e3c23a" stroke="#5f4c0e" stroke-width="0.95"/>
<path d="M461.3,299.6 L463.6,301.9 L461.3,304.2 L459,301.9 Z" fill="#e3c23a" stroke="#5f4c0e" stroke-width="0.95"/>
<path d="M465.7,303.3 L468,305.6 L465.7,307.9 L463.4,305.6 Z" fill="#e3c23a" stroke="#5f4c0e" stroke-width="0.95"/>
<path d="M461.3,305.3 L463.6,307.6 L461.3,309.9 L459,307.6 Z" fill="#fff" stroke="#5f4c0e" stroke-width="0.95"/>
<line x1="459.6" y1="301.9" x2="467.4" y2="301.9" stroke="#6a5510" stroke-width="0.8"/>
</g>
<g filter="url(#soft)" opacity="0.3">
<rect width="520" height="444" fill="#fff"/>
<text x="72" y="15.8" font-size="10.5" font-weight="bold">A</text>
<path d="M144,21.6 V17.7 H240 V21.6" stroke="#2b2b2b" stroke-width="0.8" fill="none"/>
<text x="192.2" y="12.9" font-size="7.5" text-anchor="middle">H-151 i.p.</text>
<line x1="101" y1="51.5" x2="294.4" y2="51.5" stroke="#333" stroke-width="1"/>
<line x1="101" y1="33.5" x2="101" y2="69.2" stroke="#555" stroke-width="0.9"/>
<text x="101" y="30.5" font-size="7.7" text-anchor="middle">D0</text>
<line x1="144" y1="33.5" x2="144" y2="69.2" stroke="#555" stroke-width="0.9"/>
<text x="144" y="30.5" font-size="7.7" text-anchor="middle">D18</text>
<line x1="179" y1="33.5" x2="179" y2="69.2" stroke="#555" stroke-width="0.9"/>
<text x="179" y="30.5" font-size="7.7" text-anchor="middle">D19</text>
<line x1="207.5" y1="33.5" x2="207.5" y2="69.2" stroke="#555" stroke-width="0.9"/>
<text x="207.5" y="30.5" font-size="7.7" text-anchor="middle">D20</text>
<line x1="240" y1="33.5" x2="240" y2="69.2" stroke="#555" stroke-width="0.9"/>
<text x="240" y="30.5" font-size="7.7" text-anchor="middle">D21</text>
<line x1="294.2" y1="33.5" x2="294.2" y2="69.2" stroke="#555" stroke-width="0.9"/>
<text x="294.2" y="30.5" font-size="7.7" text-anchor="middle">D34</text>
<text x="101" y="78.9" font-size="7.6" text-anchor="middle">A20</text>
<text x="101" y="88.5" font-size="7.6" text-anchor="middle">Tumor</text>
<text x="101" y="98.1" font-size="7.6" text-anchor="middle">Challenge</text>
<text x="144" y="78.9" font-size="7.6" text-anchor="middle">SARRP</text>
<text x="144" y="88.5" font-size="7.6" text-anchor="middle">1<tspan font-size="4.6" dy="-2.6">st</tspan><tspan dy="2.6"> Dose</tspan></text>
<text x="144" y="98.1" font-size="7.6" text-anchor="middle">4Gy</text>
<text x="179" y="78.9" font-size="7.6" text-anchor="middle">SARRP</text>
<text x="179" y="88.5" font-size="7.6" text-anchor="middle">2<tspan font-size="4.6" dy="-2.6">nd</tspan><tspan dy="2.6"> Dose</tspan></text>
<text x="179" y="98.1" font-size="7.6" text-anchor="middle">4Gy</text>
<text x="207.5" y="78.9" font-size="7.6" text-anchor="middle">CP</text>
<text x="240" y="78.9" font-size="7.6" text-anchor="middle">CAR-T cell</text>
<text x="240" y="88.5" font-size="7.6" text-anchor="middle">Injection</text>
<text x="294.2" y="78.9" font-size="7.6" text-anchor="middle">End</text>
<text x="294.2" y="88.5" font-size="7.6" text-anchor="middle">Point</text>
<text x="331.7" y="34" font-size="7.6" text-anchor="middle">CD19</text>
<text x="332" y="44.3" font-size="7.3" text-anchor="middle">CART</text>
<text x="333" y="55.6" font-size="7" text-anchor="middle">Cells i.v.</text>
<text x="345.5" y="72.5" font-size="7.3" text-anchor="middle">H-151,</text>
<text x="345.8" y="82.2" font-size="7.3" text-anchor="middle">CP i.p.</text>
<text x="400.6" y="85.9" font-size="7">RT</text>
<path d="M372.4,18.7 C372.62,18.97 373.57,19.48 373.7,20.3 C373.83,21.12 373.6,22.6 373.2,23.6 C372.8,24.6 372.4,25.17 371.3,26.3 C370.2,27.43 367.98,29.3 366.6,30.4 C365.22,31.5 364.2,31.95 363,32.9 C361.8,33.85 360.42,35.02 359.4,36.1 C358.38,37.18 357.53,38.37 356.9,39.4 C356.27,40.43 355.88,41.28 355.6,42.3 C355.32,43.32 355.2,44.47 355.2,45.5 C355.2,46.53 355.38,47.55 355.6,48.5 C355.82,49.45 355.98,50.15 356.5,51.2 C357.02,52.25 357.92,53.78 358.7,54.8 C359.48,55.82 360.42,56.58 361.2,57.3 C361.98,58.02 362.45,58.38 363.4,59.1 C364.35,59.82 366.32,61.18 366.9,61.6" stroke="#262626" stroke-width="1.05" fill="none"/>
<path d="M372.4,18.7 C372.9,19.02 374.9,19.7 375.4,20.6 C375.9,21.5 375.72,22.97 375.4,24.1 C375.08,25.23 374.48,26.23 373.5,27.4 C372.52,28.57 370.77,30 369.5,31.1 C368.23,32.2 367.05,33.05 365.9,34 C364.75,34.95 363.57,35.78 362.6,36.8 C361.63,37.82 360.68,39.07 360.1,40.1 C359.52,41.13 359.22,41.93 359.1,43 C358.98,44.07 359.05,45.32 359.4,46.5 C359.75,47.68 360.48,49.02 361.2,50.1 C361.92,51.18 362.65,52.08 363.7,53 C364.75,53.92 366.87,55.17 367.5,55.6" stroke="#262626" stroke-width="1.05" fill="none"/>
<circle cx="372.9" cy="19.1" r="1.0" fill="#222"/>
<path d="M376.3,47 C375.9,47.2 374.85,47.6 373.9,48.2 C372.95,48.8 371.53,49.73 370.6,50.6 C369.67,51.47 368.85,52.42 368.3,53.4 C367.75,54.38 367.5,55.4 367.3,56.5 C367.1,57.6 367.02,58.78 367.1,60 C367.18,61.22 367.35,62.72 367.8,63.8 C368.25,64.88 369.02,65.72 369.8,66.5 C370.58,67.28 371.55,67.87 372.5,68.5 C373.45,69.13 375,70 375.5,70.3" stroke="#262626" stroke-width="1.05" fill="none"/>
<circle cx="381.1" cy="44.6" r="5.6" fill="#fff" stroke="#333" stroke-width="0.9"/>
<circle cx="381.1" cy="73.4" r="5.8" fill="#fff" stroke="#333" stroke-width="0.9"/>
<path d="M381.2,40.8 c-0.9,1 0.9,1.8 0,2.8 c-0.9,1 0.9,1.8 0,2.8 c-0.9,1 0.6,1.6 0,2.4" stroke="#8a8a8a" stroke-width="0.8" fill="none"/>
<path d="M381.2,69.4 c-0.9,1 0.9,1.8 0,2.8 c-0.9,1 0.9,1.8 0,2.8 c-0.9,1 0.6,1.6 0,2.4" stroke="#8a8a8a" stroke-width="0.8" fill="none"/>
<path d="M386.6,42.9 L404.3,42.6" stroke="#262626" stroke-width="1.05" fill="none"/>
<path d="M387.3,75.6 L405.3,75.3" stroke="#262626" stroke-width="1.05" fill="none"/>
<path d="M404.3,42.6 C406.5,40.6 410,39.9 413,40.3 C416.5,40.9 419.5,42.9 421.5,46.6 C425.5,49.2 431.5,52 435.8,54.2 C438.6,55.6 440.3,57.5 439.8,58.8 C439.2,60.6 436.5,62.6 432.2,65.9 C428.5,68.5 425,69.9 421.6,70.6" stroke="#262626" stroke-width="1.05" fill="none"/>
<path d="M404.3,42.6 C402.6,44.6 402.4,48.4 403.7,50.6 C405.1,53.3 408.4,55.5 412.4,55.5" stroke="#262626" stroke-width="1.05" fill="none"/>
<path d="M413.6,62.5 C409.4,62.3 405.3,63.6 403.6,66.6 C402.4,69.5 403.1,73.5 405.5,75.3 C407.8,77.2 412.2,77.8 415.6,77.1 C418.7,76.3 420.8,74.2 421.6,70.6" stroke="#262626" stroke-width="1.05" fill="none"/>
<circle cx="428.2" cy="55.0" r="1.5" fill="#1a1a1a"/>
<circle cx="427.9" cy="63.1" r="1.5" fill="#1a1a1a"/>
<circle cx="437.5" cy="58.7" r="1.35" fill="#1a1a1a"/>
<line x1="432.8" y1="51.1" x2="437.3" y2="46" stroke="#444" stroke-width="0.6"/>
<line x1="434.7" y1="52.3" x2="439.2" y2="47.3" stroke="#444" stroke-width="0.6"/>
<line x1="436.5" y1="53.3" x2="441.2" y2="49.9" stroke="#444" stroke-width="0.6"/>
<line x1="432.8" y1="65.9" x2="437.8" y2="69.7" stroke="#444" stroke-width="0.6"/>
<line x1="434.7" y1="65.3" x2="440.2" y2="67.9" stroke="#444" stroke-width="0.6"/>
<line x1="436.5" y1="64.7" x2="441.5" y2="66" stroke="#444" stroke-width="0.6"/>
<path d="M347.0,45.0 L358.2,53.2" stroke="#d3dde0" stroke-width="2" fill="none"/>
<path d="M353.6,49.8 L357.4,52.6" stroke="#8fb0b9" stroke-width="1.6" fill="none"/>
<path d="M363.8,72.5 L377.5,64.3" stroke="#d3dde0" stroke-width="2" fill="none"/>
<path d="M369.0,69.0 L374.0,66.3" stroke="#8fb0b9" stroke-width="1.6" fill="none"/>
<path d="M386.6,77.3 L399.6,80.8 L399.4,84.6 L386.3,78.7 Z" stroke="#aaa11c" stroke-width="0.6" fill="#dcd640"/>
<text x="7.2" y="123.9" font-size="10.5" font-weight="bold">B</text>
<text x="94.2" y="134.6" font-size="8.5" text-anchor="middle">Irradiated Tumor</text>
<line x1="46.5" y1="141.8" x2="46.5" y2="219.75" stroke="#2b2b2b" stroke-width="1.15"/>
<line x1="44.3" y1="219.3" x2="46.5" y2="219.3" stroke="#2b2b2b" stroke-width="0.9"/>
<text x="40.6" y="221.6" font-size="6.8" text-anchor="end" textLength="4.4" lengthAdjust="spacingAndGlyphs">0</text>
<line x1="44.3" y1="203.92" x2="46.5" y2="203.92" stroke="#2b2b2b" stroke-width="0.9"/>
<text x="40.6" y="206.22" font-size="6.8" text-anchor="end" textLength="13.2" lengthAdjust="spacingAndGlyphs">500</text>
<line x1="44.3" y1="188.54" x2="46.5" y2="188.54" stroke="#2b2b2b" stroke-width="0.9"/>
<text x="40.6" y="190.84" font-size="6.8" text-anchor="end" textLength="17.6" lengthAdjust="spacingAndGlyphs">1000</text>
<line x1="44.3" y1="173.16" x2="46.5" y2="173.16" stroke="#2b2b2b" stroke-width="0.9"/>
<text x="40.6" y="175.46" font-size="6.8" text-anchor="end" textLength="17.6" lengthAdjust="spacingAndGlyphs">1500</text>
<line x1="44.3" y1="157.78" x2="46.5" y2="157.78" stroke="#2b2b2b" stroke-width="0.9"/>
<text x="40.6" y="160.08" font-size="6.8" text-anchor="end" textLength="17.6" lengthAdjust="spacingAndGlyphs">2000</text>
<line x1="44.3" y1="142.4" x2="46.5" y2="142.4" stroke="#2b2b2b" stroke-width="0.9"/>
<text x="40.6" y="144.7" font-size="6.8" text-anchor="end" textLength="17.6" lengthAdjust="spacingAndGlyphs">2500</text>
<text transform="translate(17.2,180.5) rotate(-90)" x="0" y="0" font-size="8.6" font-weight="normal" text-anchor="middle" textLength="58.2" lengthAdjust="spacingAndGlyphs" fill="#1e1e1e" style="stroke-width:0.45px">Tumor volume (mm<tspan font-size="5" dy="-2.6">3</tspan><tspan dy="2.6">)</tspan></text>
<line x1="46.5" y1="219.3" x2="57.5" y2="219.3" stroke="#2b2b2b" stroke-width="1.15"/>
<line x1="56.7" y1="218" x2="56.7" y2="221.9" stroke="#2b2b2b" stroke-width="0.9"/>
<line x1="62.9" y1="219.3" x2="141.49" y2="219.3" stroke="#2b2b2b" stroke-width="1.15"/>
<line x1="62.9" y1="218" x2="62.9" y2="221.3" stroke="#2b2b2b" stroke-width="0.9"/>
<line x1="66.23" y1="219.3" x2="66.23" y2="220.6" stroke="#2b2b2b" stroke-width="0.7"/>
<line x1="69.56" y1="219.3" x2="69.56" y2="220.6" stroke="#2b2b2b" stroke-width="0.7"/>
<line x1="72.89" y1="219.3" x2="72.89" y2="220.6" stroke="#2b2b2b" stroke-width="0.7"/>
<line x1="76.22" y1="219.3" x2="76.22" y2="220.6" stroke="#2b2b2b" stroke-width="0.7"/>
<line x1="79.55" y1="219.3" x2="79.55" y2="221.5" stroke="#2b2b2b" stroke-width="0.7"/>
<line x1="82.88" y1="219.3" x2="82.88" y2="220.6" stroke="#2b2b2b" stroke-width="0.7"/>
<line x1="86.21" y1="219.3" x2="86.21" y2="220.6" stroke="#2b2b2b" stroke-width="0.7"/>
<line x1="89.54" y1="219.3" x2="89.54" y2="220.6" stroke="#2b2b2b" stroke-width="0.7"/>
<line x1="92.87" y1="219.3" x2="92.87" y2="220.6" stroke="#2b2b2b" stroke-width="0.7"/>
<line x1="96.2" y1="219.3" x2="96.2" y2="221.5" stroke="#2b2b2b" stroke-width="0.7"/>
<line x1="99.53" y1="219.3" x2="99.53" y2="220.6" stroke="#2b2b2b" stroke-width="0.7"/>
<line x1="102.86" y1="219.3" x2="102.86" y2="220.6" stroke="#2b2b2b" stroke-width="0.7"/>
<line x1="106.19" y1="219.3" x2="106.19" y2="220.6" stroke="#2b2b2b" stroke-width="0.7"/>
<line x1="109.52" y1="219.3" x2="109.52" y2="220.6" stroke="#2b2b2b" stroke-width="0.7"/>
<line x1="112.85" y1="219.3" x2="112.85" y2="221.5" stroke="#2b2b2b" stroke-width="0.7"/>
<line x1="116.18" y1="219.3" x2="116.18" y2="220.6" stroke="#2b2b2b" stroke-width="0.7"/>
<line x1="119.51" y1="219.3" x2="119.51" y2="220.6" stroke="#2b2b2b" stroke-width="0.7"/>
<line x1="122.84" y1="219.3" x2="122.84" y2="220.6" stroke="#2b2b2b" stroke-width="0.7"/>
<line x1="126.17" y1="219.3" x2="126.17" y2="220.6" stroke="#2b2b2b" stroke-width="0.7"/>
<line x1="129.5" y1="219.3" x2="129.5" y2="221.5" stroke="#2b2b2b" stroke-width="0.7"/>
<line x1="132.83" y1="219.3" x2="132.83" y2="220.6" stroke="#2b2b2b" stroke-width="0.7"/>
<line x1="136.16" y1="219.3" x2="136.16" y2="220.6" stroke="#2b2b2b" stroke-width="0.7"/>
<line x1="139.49" y1="219.3" x2="139.49" y2="220.6" stroke="#2b2b2b" stroke-width="0.7"/>
<text x="46.5" y="231.8" font-size="7.5" text-anchor="middle">0</text>
<text x="55.6" y="231.8" font-size="7.5" text-anchor="middle">9</text>
<text x="63.4" y="231.8" font-size="7.5" text-anchor="middle">10</text>
<text x="79.55" y="231.8" font-size="7.5" text-anchor="middle">15</text>
<text x="96.2" y="231.8" font-size="7.5" text-anchor="middle">20</text>
<text x="112.85" y="231.8" font-size="7.5" text-anchor="middle">25</text>
<text x="129.5" y="231.8" font-size="7.5" text-anchor="middle">30</text>
<text x="94.7" y="244" font-size="8.6" text-anchor="middle" textLength="81.5" lengthAdjust="spacingAndGlyphs" style="stroke-width:0.45px">Days post tumor implantation</text>
<path d="M46.5,216.9 L48.9,219.3 L46.5,221.7 L44.1,219.3 Z" fill="#78bcd8" stroke="#1a4a60" stroke-width="1"/>
<polyline points="66.23,214.6 72.89,209 79.55,207.8 86.21,204.1 92.87,199.5 99.53,192.9 109.52,192 116.18,189.3 122.84,186.2 132.83,176.9" fill="none" stroke="#f3d35a" stroke-width="0.9"/>
<polyline points="66.23,214.9 72.89,213.4 79.55,210.9 86.21,206.6 92.87,205.9 99.53,207.8 109.52,210.6 116.18,211.3 122.84,212.1 132.83,207.6" fill="none" stroke="#7cbde0" stroke-width="0.9"/>
<line x1="132.83" y1="172.3" x2="132.83" y2="181.5" stroke="#444" stroke-width="0.7"/>
<line x1="131.33" y1="172.3" x2="134.33" y2="172.3" stroke="#444" stroke-width="0.7"/>
<line x1="131.33" y1="181.5" x2="134.33" y2="181.5" stroke="#444" stroke-width="0.7"/>
<line x1="132.83" y1="203.7" x2="132.83" y2="211.5" stroke="#444" stroke-width="0.7"/>
<line x1="131.33" y1="203.7" x2="134.33" y2="203.7" stroke="#444" stroke-width="0.7"/>
<line x1="131.33" y1="211.5" x2="134.33" y2="211.5" stroke="#444" stroke-width="0.7"/>
<line x1="122.84" y1="182.9" x2="122.84" y2="189.5" stroke="#444" stroke-width="0.7"/>
<line x1="121.34" y1="182.9" x2="124.34" y2="182.9" stroke="#444" stroke-width="0.7"/>
<line x1="121.34" y1="189.5" x2="124.34" y2="189.5" stroke="#444" stroke-width="0.7"/>
<line x1="116.18" y1="186.3" x2="116.18" y2="192.3" stroke="#444" stroke-width="0.7"/>
<line x1="114.68" y1="186.3" x2="117.68" y2="186.3" stroke="#444" stroke-width="0.7"/>
<line x1="114.68" y1="192.3" x2="117.68" y2="192.3" stroke="#444" stroke-width="0.7"/>
<line x1="99.53" y1="190.3" x2="99.53" y2="195.5" stroke="#444" stroke-width="0.7"/>
<line x1="98.03" y1="190.3" x2="101.03" y2="190.3" stroke="#444" stroke-width="0.7"/>
<line x1="98.03" y1="195.5" x2="101.03" y2="195.5" stroke="#444" stroke-width="0.7"/>
<circle cx="66.23" cy="214.6" r="1.98" fill="#f2cc3c" stroke="#866c12" stroke-width="1.05"/>
<circle cx="72.89" cy="209" r="1.98" fill="#f2cc3c" stroke="#866c12" stroke-width="1.05"/>
<circle cx="79.55" cy="207.8" r="1.98" fill="#f2cc3c" stroke="#866c12" stroke-width="1.05"/>
<circle cx="86.21" cy="204.1" r="1.98" fill="#f2cc3c" stroke="#866c12" stroke-width="1.05"/>
<circle cx="92.87" cy="199.5" r="1.98" fill="#f2cc3c" stroke="#866c12" stroke-width="1.05"/>
<circle cx="99.53" cy="192.9" r="1.98" fill="#f2cc3c" stroke="#866c12" stroke-width="1.05"/>
<circle cx="109.52" cy="192" r="1.98" fill="#f2cc3c" stroke="#866c12" stroke-width="1.05"/>
<circle cx="116.18" cy="189.3" r="1.98" fill="#f2cc3c" stroke="#866c12" stroke-width="1.05"/>
<circle cx="122.84" cy="186.2" r="1.98" fill="#f2cc3c" stroke="#866c12" stroke-width="1.05"/>
<circle cx="132.83" cy="176.9" r="1.98" fill="#f2cc3c" stroke="#866c12" stroke-width="1.05"/>
<circle cx="66.23" cy="214.9" r="1.98" fill="#55aed3" stroke="#1a5068" stroke-width="1.05"/>
<circle cx="72.89" cy="213.4" r="1.98" fill="#55aed3" stroke="#1a5068" stroke-width="1.05"/>
<circle cx="79.55" cy="210.9" r="1.98" fill="#55aed3" stroke="#1a5068" stroke-width="1.05"/>
<circle cx="86.21" cy="206.6" r="1.98" fill="#55aed3" stroke="#1a5068" stroke-width="1.05"/>
<circle cx="92.87" cy="205.9" r="1.98" fill="#55aed3" stroke="#1a5068" stroke-width="1.05"/>
<circle cx="99.53" cy="207.8" r="1.98" fill="#55aed3" stroke="#1a5068" stroke-width="1.05"/>
<circle cx="109.52" cy="210.6" r="1.98" fill="#55aed3" stroke="#1a5068" stroke-width="1.05"/>
<circle cx="116.18" cy="211.3" r="1.98" fill="#55aed3" stroke="#1a5068" stroke-width="1.05"/>
<circle cx="122.84" cy="212.1" r="1.98" fill="#55aed3" stroke="#1a5068" stroke-width="1.05"/>
<circle cx="132.83" cy="207.6" r="1.98" fill="#55aed3" stroke="#1a5068" stroke-width="1.05"/>
<circle cx="54.5" cy="149.7" r="2.02" fill="#55aed3" stroke="#1a5068" stroke-width="1.05"/>
<circle cx="54.5" cy="160.3" r="2.02" fill="#f2cc3c" stroke="#866c12" stroke-width="1.05"/>
<text x="61.6" y="152" font-size="6.9">RT+CART</text>
<text x="61.6" y="162.6" font-size="6.9">RT+CART+H-151</text>
<line x1="139.5" y1="175.4" x2="139.5" y2="206.9" stroke="#6e6e6e" stroke-width="0.8"/>
<circle cx="143.45" cy="187.28" r="0.95" fill="#222"/>
<circle cx="143.45" cy="189.93" r="0.95" fill="#222"/>
<circle cx="143.45" cy="192.57" r="0.95" fill="#222"/>
<circle cx="143.45" cy="195.22" r="0.95" fill="#222"/>
<text x="161.4" y="123.9" font-size="10.5" font-weight="bold">C</text>
<text x="248.7" y="134.6" font-size="8.5" text-anchor="middle">Non-Irradiated Tumor</text>
<line x1="200.7" y1="141.8" x2="200.7" y2="219.75" stroke="#2b2b2b" stroke-width="1.15"/>
<line x1="198.5" y1="219.3" x2="200.7" y2="219.3" stroke="#2b2b2b" stroke-width="0.9"/>
<text x="194.8" y="221.6" font-size="6.8" text-anchor="end" textLength="4.4" lengthAdjust="spacingAndGlyphs">0</text>
<line x1="198.5" y1="203.92" x2="200.7" y2="203.92" stroke="#2b2b2b" stroke-width="0.9"/>
<text x="194.8" y="206.22" font-size="6.8" text-anchor="end" textLength="13.2" lengthAdjust="spacingAndGlyphs">500</text>
<line x1="198.5" y1="188.54" x2="200.7" y2="188.54" stroke="#2b2b2b" stroke-width="0.9"/>
<text x="194.8" y="190.84" font-size="6.8" text-anchor="end" textLength="17.6" lengthAdjust="spacingAndGlyphs">1000</text>
<line x1="198.5" y1="173.16" x2="200.7" y2="173.16" stroke="#2b2b2b" stroke-width="0.9"/>
<text x="194.8" y="175.46" font-size="6.8" text-anchor="end" textLength="17.6" lengthAdjust="spacingAndGlyphs">1500</text>
<line x1="198.5" y1="157.78" x2="200.7" y2="157.78" stroke="#2b2b2b" stroke-width="0.9"/>
<text x="194.8" y="160.08" font-size="6.8" text-anchor="end" textLength="17.6" lengthAdjust="spacingAndGlyphs">2000</text>
<line x1="198.5" y1="142.4" x2="200.7" y2="142.4" stroke="#2b2b2b" stroke-width="0.9"/>
<text x="194.8" y="144.7" font-size="6.8" text-anchor="end" textLength="17.6" lengthAdjust="spacingAndGlyphs">2500</text>
<text transform="translate(171.4,180.5) rotate(-90)" x="0" y="0" font-size="8.6" font-weight="normal" text-anchor="middle" textLength="58.2" lengthAdjust="spacingAndGlyphs" fill="#1e1e1e" style="stroke-width:0.45px">Tumor volume (mm<tspan font-size="5" dy="-2.6">3</tspan><tspan dy="2.6">)</tspan></text>
<line x1="200.7" y1="219.3" x2="211.7" y2="219.3" stroke="#2b2b2b" stroke-width="1.15"/>
<line x1="210.9" y1="218" x2="210.9" y2="221.9" stroke="#2b2b2b" stroke-width="0.9"/>
<line x1="217.1" y1="219.3" x2="295.69" y2="219.3" stroke="#2b2b2b" stroke-width="1.15"/>
<line x1="217.1" y1="218" x2="217.1" y2="221.3" stroke="#2b2b2b" stroke-width="0.9"/>
<line x1="220.43" y1="219.3" x2="220.43" y2="220.6" stroke="#2b2b2b" stroke-width="0.7"/>
<line x1="223.76" y1="219.3" x2="223.76" y2="220.6" stroke="#2b2b2b" stroke-width="0.7"/>
<line x1="227.09" y1="219.3" x2="227.09" y2="220.6" stroke="#2b2b2b" stroke-width="0.7"/>
<line x1="230.42" y1="219.3" x2="230.42" y2="220.6" stroke="#2b2b2b" stroke-width="0.7"/>
<line x1="233.75" y1="219.3" x2="233.75" y2="221.5" stroke="#2b2b2b" stroke-width="0.7"/>
<line x1="237.08" y1="219.3" x2="237.08" y2="220.6" stroke="#2b2b2b" stroke-width="0.7"/>
<line x1="240.41" y1="219.3" x2="240.41" y2="220.6" stroke="#2b2b2b" stroke-width="0.7"/>
<line x1="243.74" y1="219.3" x2="243.74" y2="220.6" stroke="#2b2b2b" stroke-width="0.7"/>
<line x1="247.07" y1="219.3" x2="247.07" y2="220.6" stroke="#2b2b2b" stroke-width="0.7"/>
<line x1="250.4" y1="219.3" x2="250.4" y2="221.5" stroke="#2b2b2b" stroke-width="0.7"/>
<line x1="253.73" y1="219.3" x2="253.73" y2="220.6" stroke="#2b2b2b" stroke-width="0.7"/>
<line x1="257.06" y1="219.3" x2="257.06" y2="220.6" stroke="#2b2b2b" stroke-width="0.7"/>
<line x1="260.39" y1="219.3" x2="260.39" y2="220.6" stroke="#2b2b2b" stroke-width="0.7"/>
<line x1="263.72" y1="219.3" x2="263.72" y2="220.6" stroke="#2b2b2b" stroke-width="0.7"/>
<line x1="267.05" y1="219.3" x2="267.05" y2="221.5" stroke="#2b2b2b" stroke-width="0.7"/>
<line x1="270.38" y1="219.3" x2="270.38" y2="220.6" stroke="#2b2b2b" stroke-width="0.7"/>
<line x1="273.71" y1="219.3" x2="273.71" y2="220.6" stroke="#2b2b2b" stroke-width="0.7"/>
<line x1="277.04" y1="219.3" x2="277.04" y2="220.6" stroke="#2b2b2b" stroke-width="0.7"/>
<line x1="280.37" y1="219.3" x2="280.37" y2="220.6" stroke="#2b2b2b" stroke-width="0.7"/>
<line x1="283.7" y1="219.3" x2="283.7" y2="221.5" stroke="#2b2b2b" stroke-width="0.7"/>
<line x1="287.03" y1="219.3" x2="287.03" y2="220.6" stroke="#2b2b2b" stroke-width="0.7"/>
<line x1="290.36" y1="219.3" x2="290.36" y2="220.6" stroke="#2b2b2b" stroke-width="0.7"/>
<line x1="293.69" y1="219.3" x2="293.69" y2="220.6" stroke="#2b2b2b" stroke-width="0.7"/>
<text x="200.7" y="231.8" font-size="7.5" text-anchor="middle">0</text>
<text x="209.8" y="231.8" font-size="7.5" text-anchor="middle">9</text>
<text x="217.6" y="231.8" font-size="7.5" text-anchor="middle">10</text>
<text x="233.75" y="231.8" font-size="7.5" text-anchor="middle">15</text>
<text x="250.4" y="231.8" font-size="7.5" text-anchor="middle">20</text>
<text x="267.05" y="231.8" font-size="7.5" text-anchor="middle">25</text>
<text x="283.7" y="231.8" font-size="7.5" text-anchor="middle">30</text>
<text x="248.9" y="244" font-size="8.6" text-anchor="middle" textLength="81.5" lengthAdjust="spacingAndGlyphs" style="stroke-width:0.45px">Days post tumor implantation</text>
<path d="M200.7,216.9 L203.1,219.3 L200.7,221.7 L198.3,219.3 Z" fill="#78bcd8" stroke="#1a4a60" stroke-width="1"/>
<polyline points="220.43,215 227.09,210 233.75,209 240.41,206.5 247.07,199.7 253.73,192.6 263.72,191.1 270.38,187 277.04,178.4 287.03,164.5" fill="none" stroke="#f3d35a" stroke-width="0.9"/>
<polyline points="220.43,215.2 227.09,212.8 233.75,211.5 240.41,206.9 247.07,204.9 253.73,206.2 263.72,208.7 270.38,207.7 277.04,205.5 287.03,202.1" fill="none" stroke="#7cbde0" stroke-width="0.9"/>
<line x1="287.03" y1="159.9" x2="287.03" y2="169.1" stroke="#444" stroke-width="0.7"/>
<line x1="285.53" y1="159.9" x2="288.53" y2="159.9" stroke="#444" stroke-width="0.7"/>
<line x1="285.53" y1="169.1" x2="288.53" y2="169.1" stroke="#444" stroke-width="0.7"/>
<line x1="287.03" y1="198.2" x2="287.03" y2="206" stroke="#444" stroke-width="0.7"/>
<line x1="285.53" y1="198.2" x2="288.53" y2="198.2" stroke="#444" stroke-width="0.7"/>
<line x1="285.53" y1="206" x2="288.53" y2="206" stroke="#444" stroke-width="0.7"/>
<line x1="277.04" y1="175.1" x2="277.04" y2="181.7" stroke="#444" stroke-width="0.7"/>
<line x1="275.54" y1="175.1" x2="278.54" y2="175.1" stroke="#444" stroke-width="0.7"/>
<line x1="275.54" y1="181.7" x2="278.54" y2="181.7" stroke="#444" stroke-width="0.7"/>
<line x1="270.38" y1="184" x2="270.38" y2="190" stroke="#444" stroke-width="0.7"/>
<line x1="268.88" y1="184" x2="271.88" y2="184" stroke="#444" stroke-width="0.7"/>
<line x1="268.88" y1="190" x2="271.88" y2="190" stroke="#444" stroke-width="0.7"/>
<line x1="253.73" y1="190" x2="253.73" y2="195.2" stroke="#444" stroke-width="0.7"/>
<line x1="252.23" y1="190" x2="255.23" y2="190" stroke="#444" stroke-width="0.7"/>
<line x1="252.23" y1="195.2" x2="255.23" y2="195.2" stroke="#444" stroke-width="0.7"/>
<circle cx="220.43" cy="215" r="1.98" fill="#f2cc3c" stroke="#866c12" stroke-width="1.05"/>
<circle cx="227.09" cy="210" r="1.98" fill="#f2cc3c" stroke="#866c12" stroke-width="1.05"/>
<circle cx="233.75" cy="209" r="1.98" fill="#f2cc3c" stroke="#866c12" stroke-width="1.05"/>
<circle cx="240.41" cy="206.5" r="1.98" fill="#f2cc3c" stroke="#866c12" stroke-width="1.05"/>
<circle cx="247.07" cy="199.7" r="1.98" fill="#f2cc3c" stroke="#866c12" stroke-width="1.05"/>
<circle cx="253.73" cy="192.6" r="1.98" fill="#f2cc3c" stroke="#866c12" stroke-width="1.05"/>
<circle cx="263.72" cy="191.1" r="1.98" fill="#f2cc3c" stroke="#866c12" stroke-width="1.05"/>
<circle cx="270.38" cy="187" r="1.98" fill="#f2cc3c" stroke="#866c12" stroke-width="1.05"/>
<circle cx="277.04" cy="178.4" r="1.98" fill="#f2cc3c" stroke="#866c12" stroke-width="1.05"/>
<circle cx="287.03" cy="164.5" r="1.98" fill="#f2cc3c" stroke="#866c12" stroke-width="1.05"/>
<circle cx="220.43" cy="215.2" r="1.98" fill="#55aed3" stroke="#1a5068" stroke-width="1.05"/>
<circle cx="227.09" cy="212.8" r="1.98" fill="#55aed3" stroke="#1a5068" stroke-width="1.05"/>
<circle cx="233.75" cy="211.5" r="1.98" fill="#55aed3" stroke="#1a5068" stroke-width="1.05"/>
<circle cx="240.41" cy="206.9" r="1.98" fill="#55aed3" stroke="#1a5068" stroke-width="1.05"/>
<circle cx="247.07" cy="204.9" r="1.98" fill="#55aed3" stroke="#1a5068" stroke-width="1.05"/>
<circle cx="253.73" cy="206.2" r="1.98" fill="#55aed3" stroke="#1a5068" stroke-width="1.05"/>
<circle cx="263.72" cy="208.7" r="1.98" fill="#55aed3" stroke="#1a5068" stroke-width="1.05"/>
<circle cx="270.38" cy="207.7" r="1.98" fill="#55aed3" stroke="#1a5068" stroke-width="1.05"/>
<circle cx="277.04" cy="205.5" r="1.98" fill="#55aed3" stroke="#1a5068" stroke-width="1.05"/>
<circle cx="287.03" cy="202.1" r="1.98" fill="#55aed3" stroke="#1a5068" stroke-width="1.05"/>
<line x1="204.7" y1="146.4" x2="211.7" y2="146.4" stroke="#7cbde0" stroke-width="0.8"/>
<line x1="204.7" y1="156.8" x2="211.7" y2="156.8" stroke="#f3d35a" stroke-width="0.8"/>
<circle cx="208.2" cy="146.4" r="1.67" fill="#55aed3" stroke="#1a5068" stroke-width="1.05"/>
<circle cx="208.2" cy="156.8" r="1.67" fill="#f2cc3c" stroke="#866c12" stroke-width="1.05"/>
<text x="215" y="148.7" font-size="6.9">RT+CART</text>
<text x="215" y="159.1" font-size="6.9">RT+CART+H-151</text>
<line x1="294.1" y1="164.6" x2="294.1" y2="198.3" stroke="#6e6e6e" stroke-width="0.8"/>
<circle cx="298.05" cy="177.57" r="0.95" fill="#222"/>
<circle cx="298.05" cy="180.22" r="0.95" fill="#222"/>
<circle cx="298.05" cy="182.87" r="0.95" fill="#222"/>
<circle cx="298.05" cy="185.52" r="0.95" fill="#222"/>
<text x="318.8" y="124.1" font-size="10.5" font-weight="bold">D</text>
<text x="378.8" y="122.7" font-size="8.6" text-anchor="middle">Irradiated</text>
<text x="378.8" y="134.2" font-size="8.6" text-anchor="middle">Tumor</text>
<text x="478.8" y="123.5" font-size="8.6" text-anchor="middle">Non-Irradiated</text>
<text x="478.8" y="134.7" font-size="8.6" text-anchor="middle">Tumor</text>
<line x1="347.2" y1="141.8" x2="347.2" y2="219.65" stroke="#2b2b2b" stroke-width="1.15"/>
<line x1="347.2" y1="219.2" x2="403.5" y2="219.2" stroke="#2b2b2b" stroke-width="1.15"/>
<line x1="345" y1="219.2" x2="347.2" y2="219.2" stroke="#2b2b2b" stroke-width="0.9"/>
<text x="342.6" y="221.7" font-size="7" text-anchor="end" textLength="10.9" lengthAdjust="spacingAndGlyphs">0.0</text>
<line x1="345" y1="203.82" x2="347.2" y2="203.82" stroke="#2b2b2b" stroke-width="0.9"/>
<text x="342.6" y="206.32" font-size="7" text-anchor="end" textLength="10.9" lengthAdjust="spacingAndGlyphs">0.2</text>
<line x1="345" y1="188.44" x2="347.2" y2="188.44" stroke="#2b2b2b" stroke-width="0.9"/>
<text x="342.6" y="190.94" font-size="7" text-anchor="end" textLength="10.9" lengthAdjust="spacingAndGlyphs">0.4</text>
<line x1="345" y1="173.06" x2="347.2" y2="173.06" stroke="#2b2b2b" stroke-width="0.9"/>
<text x="342.6" y="175.56" font-size="7" text-anchor="end" textLength="10.9" lengthAdjust="spacingAndGlyphs">0.6</text>
<line x1="345" y1="157.68" x2="347.2" y2="157.68" stroke="#2b2b2b" stroke-width="0.9"/>
<text x="342.6" y="160.18" font-size="7" text-anchor="end" textLength="10.9" lengthAdjust="spacingAndGlyphs">0.8</text>
<line x1="345" y1="142.3" x2="347.2" y2="142.3" stroke="#2b2b2b" stroke-width="0.9"/>
<text x="342.6" y="144.8" font-size="7" text-anchor="end" textLength="10.9" lengthAdjust="spacingAndGlyphs">1.0</text>
<line x1="365.4" y1="219.2" x2="365.4" y2="221.2" stroke="#2b2b2b" stroke-width="0.8"/>
<line x1="391.2" y1="219.2" x2="391.2" y2="221.2" stroke="#2b2b2b" stroke-width="0.8"/>
<text transform="translate(325.9,179.8) rotate(-90)" x="0" y="0" font-size="8.6" font-weight="normal" text-anchor="middle" textLength="74.5" lengthAdjust="spacingAndGlyphs" fill="#1e1e1e" style="stroke-width:0.3px">%CD45.2<tspan font-size="4.6" dy="-2.3">+</tspan><tspan dy="2.3">/CD3</tspan><tspan font-size="4.6" dy="-2.3">+</tspan><tspan dy="2.3">/CD45.1</tspan><tspan font-size="4.6" dy="-2.3">+</tspan></text>
<line x1="447.4" y1="141.8" x2="447.4" y2="219.65" stroke="#2b2b2b" stroke-width="1.15"/>
<line x1="447.4" y1="219.2" x2="509.5" y2="219.2" stroke="#2b2b2b" stroke-width="1.15"/>
<line x1="445.2" y1="219.2" x2="447.4" y2="219.2" stroke="#2b2b2b" stroke-width="0.9"/>
<text x="442.3" y="221.7" font-size="7" text-anchor="end" textLength="10.9" lengthAdjust="spacingAndGlyphs">0.0</text>
<line x1="445.2" y1="203.82" x2="447.4" y2="203.82" stroke="#2b2b2b" stroke-width="0.9"/>
<text x="442.3" y="206.32" font-size="7" text-anchor="end" textLength="10.9" lengthAdjust="spacingAndGlyphs">0.2</text>
<line x1="445.2" y1="188.44" x2="447.4" y2="188.44" stroke="#2b2b2b" stroke-width="0.9"/>
<text x="442.3" y="190.94" font-size="7" text-anchor="end" textLength="10.9" lengthAdjust="spacingAndGlyphs">0.4</text>
<line x1="445.2" y1="173.06" x2="447.4" y2="173.06" stroke="#2b2b2b" stroke-width="0.9"/>
<text x="442.3" y="175.56" font-size="7" text-anchor="end" textLength="10.9" lengthAdjust="spacingAndGlyphs">0.6</text>
<line x1="445.2" y1="157.68" x2="447.4" y2="157.68" stroke="#2b2b2b" stroke-width="0.9"/>
<text x="442.3" y="160.18" font-size="7" text-anchor="end" textLength="10.9" lengthAdjust="spacingAndGlyphs">0.8</text>
<line x1="445.2" y1="142.3" x2="447.4" y2="142.3" stroke="#2b2b2b" stroke-width="0.9"/>
<text x="442.3" y="144.8" font-size="7" text-anchor="end" textLength="10.9" lengthAdjust="spacingAndGlyphs">1.0</text>
<line x1="465.2" y1="219.2" x2="465.2" y2="221.2" stroke="#2b2b2b" stroke-width="0.8"/>
<line x1="491.1" y1="219.2" x2="491.1" y2="221.2" stroke="#2b2b2b" stroke-width="0.8"/>
<text transform="translate(424.8,180.2) rotate(-90)" x="0" y="0" font-size="8.6" font-weight="normal" text-anchor="middle" textLength="73.5" lengthAdjust="spacingAndGlyphs" fill="#1e1e1e" style="stroke-width:0.3px">%CD45.2<tspan font-size="4.6" dy="-2.3">+</tspan><tspan dy="2.3">/CD3</tspan><tspan font-size="4.6" dy="-2.3">+</tspan><tspan dy="2.3">/CD45.1</tspan><tspan font-size="4.6" dy="-2.3">+</tspan></text>
<text x="365.4" y="232" font-size="7.3" text-anchor="middle">RT+</text>
<text x="365.4" y="240.9" font-size="7.3" text-anchor="middle">CART</text>
<text x="391.2" y="232" font-size="7.3" text-anchor="middle">RT+</text>
<text x="391.2" y="240.9" font-size="7.3" text-anchor="middle">CART</text>
<text x="391.2" y="249.8" font-size="7.3" text-anchor="middle">+H-151</text>
<text x="465.2" y="232" font-size="7.3" text-anchor="middle">RT+</text>
<text x="465.2" y="240.9" font-size="7.3" text-anchor="middle">CART</text>
<text x="491.1" y="232" font-size="7.3" text-anchor="middle">RT+</text>
<text x="491.1" y="240.9" font-size="7.3" text-anchor="middle">CART</text>
<text x="491.1" y="249.8" font-size="7.3" text-anchor="middle">+H-151</text>
<line x1="366.2" y1="153.6" x2="391.5" y2="153.6" stroke="#333" stroke-width="0.95"/>
<circle cx="378.5" cy="149.4" r="0.95" fill="#222"/>
<line x1="467.3" y1="170.2" x2="491.1" y2="170.2" stroke="#333" stroke-width="0.95"/>
<circle cx="479.4" cy="166.1" r="0.95" fill="#222"/>
<circle cx="365.3" cy="164.5" r="1.94" fill="#55aed3" stroke="#1a5068" stroke-width="1.05"/>
<circle cx="365.3" cy="169.2" r="1.94" fill="#55aed3" stroke="#1a5068" stroke-width="1.05"/>
<circle cx="361.2" cy="177.7" r="1.94" fill="#55aed3" stroke="#1a5068" stroke-width="1.05"/>
<circle cx="369.2" cy="177.7" r="1.94" fill="#55aed3" stroke="#1a5068" stroke-width="1.05"/>
<circle cx="365.3" cy="185.8" r="1.94" fill="#55aed3" stroke="#1a5068" stroke-width="1.05"/>
<circle cx="365.3" cy="189.5" r="1.94" fill="#55aed3" stroke="#1a5068" stroke-width="1.05"/>
<circle cx="365.3" cy="203.6" r="1.94" fill="#55aed3" stroke="#1a5068" stroke-width="1.05"/>
<line x1="356.5" y1="181.5" x2="374.1" y2="181.5" stroke="#2a2a2a" stroke-width="1"/>
<line x1="365.3" y1="176.6" x2="365.3" y2="186.4" stroke="#2a2a2a" stroke-width="0.8"/>
<line x1="361.9" y1="176.6" x2="368.7" y2="176.6" stroke="#2a2a2a" stroke-width="0.8"/>
<line x1="361.9" y1="186.4" x2="368.7" y2="186.4" stroke="#2a2a2a" stroke-width="0.8"/>
<circle cx="391.6" cy="178.2" r="1.94" fill="#f2cc3c" stroke="#866c12" stroke-width="1.05"/>
<circle cx="388" cy="189.1" r="1.94" fill="#f2cc3c" stroke="#866c12" stroke-width="1.05"/>
<circle cx="395.3" cy="191.2" r="1.94" fill="#f2cc3c" stroke="#866c12" stroke-width="1.05"/>
<circle cx="388" cy="195.3" r="1.94" fill="#f2cc3c" stroke="#866c12" stroke-width="1.05"/>
<circle cx="388" cy="201.2" r="1.94" fill="#f2cc3c" stroke="#866c12" stroke-width="1.05"/>
<circle cx="395.3" cy="202.6" r="1.94" fill="#f2cc3c" stroke="#866c12" stroke-width="1.05"/>
<circle cx="388" cy="206.1" r="1.94" fill="#f2cc3c" stroke="#866c12" stroke-width="1.05"/>
<line x1="382.7" y1="195.5" x2="400.3" y2="195.5" stroke="#2a2a2a" stroke-width="1"/>
<line x1="391.5" y1="191.5" x2="391.5" y2="198.6" stroke="#2a2a2a" stroke-width="0.8"/>
<line x1="388.5" y1="191.5" x2="394.5" y2="191.5" stroke="#2a2a2a" stroke-width="0.8"/>
<line x1="388.5" y1="198.6" x2="394.5" y2="198.6" stroke="#2a2a2a" stroke-width="0.8"/>
<circle cx="461.4" cy="183.1" r="1.94" fill="#55aed3" stroke="#1a5068" stroke-width="1.05"/>
<circle cx="469.2" cy="186.1" r="1.94" fill="#55aed3" stroke="#1a5068" stroke-width="1.05"/>
<circle cx="465.2" cy="190.7" r="1.94" fill="#55aed3" stroke="#1a5068" stroke-width="1.05"/>
<circle cx="461.4" cy="198.8" r="1.94" fill="#55aed3" stroke="#1a5068" stroke-width="1.05"/>
<circle cx="469.2" cy="197.8" r="1.94" fill="#55aed3" stroke="#1a5068" stroke-width="1.05"/>
<circle cx="461.4" cy="203.2" r="1.94" fill="#55aed3" stroke="#1a5068" stroke-width="1.05"/>
<circle cx="469.2" cy="203.2" r="1.94" fill="#55aed3" stroke="#1a5068" stroke-width="1.05"/>
<line x1="456.6" y1="194.5" x2="474" y2="194.5" stroke="#2a2a2a" stroke-width="1"/>
<line x1="465.3" y1="191.5" x2="465.3" y2="197.6" stroke="#2a2a2a" stroke-width="0.8"/>
<line x1="462.3" y1="191.5" x2="468.3" y2="191.5" stroke="#2a2a2a" stroke-width="0.8"/>
<line x1="462.3" y1="197.6" x2="468.3" y2="197.6" stroke="#2a2a2a" stroke-width="0.8"/>
<circle cx="484.2" cy="198.8" r="1.94" fill="#f2cc3c" stroke="#866c12" stroke-width="1.05"/>
<circle cx="491.1" cy="197.8" r="1.94" fill="#f2cc3c" stroke="#866c12" stroke-width="1.05"/>
<circle cx="498" cy="201" r="1.94" fill="#f2cc3c" stroke="#866c12" stroke-width="1.05"/>
<circle cx="491.1" cy="204.7" r="1.94" fill="#f2cc3c" stroke="#866c12" stroke-width="1.05"/>
<circle cx="494.8" cy="208.3" r="1.94" fill="#f2cc3c" stroke="#866c12" stroke-width="1.05"/>
<circle cx="487.8" cy="211.5" r="1.94" fill="#f2cc3c" stroke="#866c12" stroke-width="1.05"/>
<line x1="482.7" y1="203.5" x2="499.9" y2="203.5" stroke="#2a2a2a" stroke-width="1"/>
<line x1="491.3" y1="201.5" x2="491.3" y2="205.6" stroke="#2a2a2a" stroke-width="0.8"/>
<line x1="488.7" y1="201.5" x2="493.9" y2="201.5" stroke="#2a2a2a" stroke-width="0.8"/>
<line x1="488.7" y1="205.6" x2="493.9" y2="205.6" stroke="#2a2a2a" stroke-width="0.8"/>
<text x="9" y="270.9" font-size="10.5" font-weight="bold">E</text>
<text x="66" y="269.3" font-size="8.6" text-anchor="middle">Irradiated</text>
<text x="66" y="279.6" font-size="8.6" text-anchor="middle">Tumor</text>
<text x="159.8" y="269.6" font-size="8.6" text-anchor="middle">Non-Irradiated</text>
<text x="159.8" y="279.6" font-size="8.6" text-anchor="middle">Tumor</text>
<line x1="35" y1="287.7" x2="35" y2="365.05" stroke="#2b2b2b" stroke-width="1.15"/>
<line x1="35" y1="364.6" x2="95.5" y2="364.6" stroke="#2b2b2b" stroke-width="1.15"/>
<line x1="32.8" y1="364.6" x2="35" y2="364.6" stroke="#2b2b2b" stroke-width="0.9"/>
<text x="29.4" y="367.1" font-size="7.4" text-anchor="end" textLength="4.4" lengthAdjust="spacingAndGlyphs">0</text>
<line x1="32.8" y1="339.15" x2="35" y2="339.15" stroke="#2b2b2b" stroke-width="0.9"/>
<text x="29.4" y="341.65" font-size="7.4" text-anchor="end" textLength="4.4" lengthAdjust="spacingAndGlyphs">1</text>
<line x1="32.8" y1="313.7" x2="35" y2="313.7" stroke="#2b2b2b" stroke-width="0.9"/>
<text x="29.4" y="316.2" font-size="7.4" text-anchor="end" textLength="4.4" lengthAdjust="spacingAndGlyphs">2</text>
<line x1="32.8" y1="288.25" x2="35" y2="288.25" stroke="#2b2b2b" stroke-width="0.9"/>
<text x="29.4" y="290.75" font-size="7.4" text-anchor="end" textLength="4.4" lengthAdjust="spacingAndGlyphs">3</text>
<line x1="52.7" y1="364.6" x2="52.7" y2="366.6" stroke="#2b2b2b" stroke-width="0.8"/>
<line x1="78.1" y1="364.6" x2="78.1" y2="366.6" stroke="#2b2b2b" stroke-width="0.8"/>
<text transform="translate(20.7,325.3) rotate(-90)" x="0" y="0" font-size="8.6" font-weight="normal" text-anchor="middle" textLength="53.6" lengthAdjust="spacingAndGlyphs" fill="#1e1e1e" style="stroke-width:0.3px">%CD45.2<tspan font-size="4.6" dy="-2.3">+</tspan><tspan dy="2.3">/CD11c</tspan><tspan font-size="4.6" dy="-2.3">+</tspan></text>
<line x1="128.5" y1="287.7" x2="128.5" y2="365.05" stroke="#2b2b2b" stroke-width="1.15"/>
<line x1="128.5" y1="364.6" x2="189.7" y2="364.6" stroke="#2b2b2b" stroke-width="1.15"/>
<line x1="126.3" y1="364.6" x2="128.5" y2="364.6" stroke="#2b2b2b" stroke-width="0.9"/>
<text x="122.4" y="367.1" font-size="7.4" text-anchor="end" textLength="4.4" lengthAdjust="spacingAndGlyphs">0</text>
<line x1="126.3" y1="339.15" x2="128.5" y2="339.15" stroke="#2b2b2b" stroke-width="0.9"/>
<text x="122.4" y="341.65" font-size="7.4" text-anchor="end" textLength="4.4" lengthAdjust="spacingAndGlyphs">1</text>
<line x1="126.3" y1="313.7" x2="128.5" y2="313.7" stroke="#2b2b2b" stroke-width="0.9"/>
<text x="122.4" y="316.2" font-size="7.4" text-anchor="end" textLength="4.4" lengthAdjust="spacingAndGlyphs">2</text>
<line x1="126.3" y1="288.25" x2="128.5" y2="288.25" stroke="#2b2b2b" stroke-width="0.9"/>
<text x="122.4" y="290.75" font-size="7.4" text-anchor="end" textLength="4.4" lengthAdjust="spacingAndGlyphs">3</text>
<line x1="145.9" y1="364.6" x2="145.9" y2="366.6" stroke="#2b2b2b" stroke-width="0.8"/>
<line x1="172" y1="364.6" x2="172" y2="366.6" stroke="#2b2b2b" stroke-width="0.8"/>
<text transform="translate(114.1,325.3) rotate(-90)" x="0" y="0" font-size="8.6" font-weight="normal" text-anchor="middle" textLength="53.6" lengthAdjust="spacingAndGlyphs" fill="#1e1e1e" style="stroke-width:0.3px">%CD45.2<tspan font-size="4.6" dy="-2.3">+</tspan><tspan dy="2.3">/CD11c</tspan><tspan font-size="4.6" dy="-2.3">+</tspan></text>
<text x="52.6" y="377" font-size="7.3" text-anchor="middle">RT+</text>
<text x="52.6" y="385.9" font-size="7.3" text-anchor="middle">CART</text>
<text x="78.1" y="377" font-size="7.3" text-anchor="middle">RT+</text>
<text x="78.1" y="385.9" font-size="7.3" text-anchor="middle">CART</text>
<text x="78.1" y="394.8" font-size="7.3" text-anchor="middle">+H-151</text>
<text x="146" y="377" font-size="7.3" text-anchor="middle">RT+</text>
<text x="146" y="385.9" font-size="7.3" text-anchor="middle">CART</text>
<text x="172" y="377" font-size="7.3" text-anchor="middle">RT+</text>
<text x="172" y="385.9" font-size="7.3" text-anchor="middle">CART</text>
<text x="172" y="394.8" font-size="7.3" text-anchor="middle">+H-151</text>
<line x1="56" y1="300.7" x2="81.4" y2="300.7" stroke="#9a9a9a" stroke-width="1.4"/>
<circle cx="68.7" cy="296.2" r="0.95" fill="#222"/>
<line x1="148.3" y1="312.7" x2="172.8" y2="312.7" stroke="#9a9a9a" stroke-width="1.4"/>
<circle cx="157.4" cy="308.7" r="0.95" fill="#222"/>
<circle cx="160.4" cy="308.7" r="0.95" fill="#222"/>
<circle cx="163.4" cy="308.7" r="0.95" fill="#222"/>
<circle cx="52.9" cy="312.6" r="1.94" fill="#55aed3" stroke="#1a5068" stroke-width="1.05"/>
<circle cx="52.9" cy="323.3" r="1.94" fill="#55aed3" stroke="#1a5068" stroke-width="1.05"/>
<circle cx="48.9" cy="337.9" r="1.94" fill="#55aed3" stroke="#1a5068" stroke-width="1.05"/>
<circle cx="56.8" cy="341.3" r="1.94" fill="#55aed3" stroke="#1a5068" stroke-width="1.05"/>
<circle cx="48.9" cy="344.2" r="1.94" fill="#55aed3" stroke="#1a5068" stroke-width="1.05"/>
<circle cx="56.5" cy="347" r="1.94" fill="#55aed3" stroke="#1a5068" stroke-width="1.05"/>
<circle cx="52.9" cy="353.9" r="1.94" fill="#55aed3" stroke="#1a5068" stroke-width="1.05"/>
<line x1="44.3" y1="337.5" x2="61.3" y2="337.5" stroke="#2a2a2a" stroke-width="1"/>
<line x1="52.8" y1="332" x2="52.8" y2="342.6" stroke="#2a2a2a" stroke-width="0.8"/>
<line x1="49.6" y1="332" x2="56" y2="332" stroke="#2a2a2a" stroke-width="0.8"/>
<line x1="49.6" y1="342.6" x2="56" y2="342.6" stroke="#2a2a2a" stroke-width="0.8"/>
<circle cx="76.2" cy="344.2" r="1.94" fill="#f2cc3c" stroke="#866c12" stroke-width="1.05"/>
<circle cx="85.5" cy="347.6" r="1.94" fill="#f2cc3c" stroke="#866c12" stroke-width="1.05"/>
<circle cx="71.8" cy="350.5" r="1.94" fill="#f2cc3c" stroke="#866c12" stroke-width="1.05"/>
<circle cx="76.5" cy="351.3" r="1.94" fill="#f2cc3c" stroke="#866c12" stroke-width="1.05"/>
<circle cx="80.8" cy="351.3" r="1.94" fill="#f2cc3c" stroke="#866c12" stroke-width="1.05"/>
<circle cx="85.5" cy="351.7" r="1.94" fill="#f2cc3c" stroke="#866c12" stroke-width="1.05"/>
<circle cx="78.6" cy="355.5" r="1.94" fill="#f2cc3c" stroke="#866c12" stroke-width="1.05"/>
<line x1="70.4" y1="350.5" x2="84.6" y2="350.5" stroke="#2a2a2a" stroke-width="1"/>
<line x1="77.5" y1="349.6" x2="77.5" y2="352.2" stroke="#2a2a2a" stroke-width="0.8"/>
<line x1="75.5" y1="349.6" x2="79.5" y2="349.6" stroke="#2a2a2a" stroke-width="0.8"/>
<line x1="75.5" y1="352.2" x2="79.5" y2="352.2" stroke="#2a2a2a" stroke-width="0.8"/>
<circle cx="146" cy="331.2" r="1.94" fill="#55aed3" stroke="#1a5068" stroke-width="1.05"/>
<circle cx="138.9" cy="335.5" r="1.94" fill="#55aed3" stroke="#1a5068" stroke-width="1.05"/>
<circle cx="153.1" cy="336" r="1.94" fill="#55aed3" stroke="#1a5068" stroke-width="1.05"/>
<circle cx="146" cy="337.5" r="1.94" fill="#55aed3" stroke="#1a5068" stroke-width="1.05"/>
<circle cx="146" cy="342.9" r="1.94" fill="#55aed3" stroke="#1a5068" stroke-width="1.05"/>
<circle cx="138.9" cy="345.4" r="1.94" fill="#55aed3" stroke="#1a5068" stroke-width="1.05"/>
<circle cx="153.1" cy="344.5" r="1.94" fill="#55aed3" stroke="#1a5068" stroke-width="1.05"/>
<line x1="137.3" y1="339.5" x2="154.9" y2="339.5" stroke="#2a2a2a" stroke-width="1"/>
<line x1="146.1" y1="337.4" x2="146.1" y2="341.4" stroke="#2a2a2a" stroke-width="0.8"/>
<line x1="143.5" y1="337.4" x2="148.7" y2="337.4" stroke="#2a2a2a" stroke-width="0.8"/>
<line x1="143.5" y1="341.4" x2="148.7" y2="341.4" stroke="#2a2a2a" stroke-width="0.8"/>
<circle cx="175.5" cy="344.2" r="1.94" fill="#f2cc3c" stroke="#866c12" stroke-width="1.05"/>
<circle cx="172" cy="346.1" r="1.94" fill="#f2cc3c" stroke="#866c12" stroke-width="1.05"/>
<circle cx="165.2" cy="351.3" r="1.94" fill="#f2cc3c" stroke="#866c12" stroke-width="1.05"/>
<circle cx="168.8" cy="350.2" r="1.94" fill="#f2cc3c" stroke="#866c12" stroke-width="1.05"/>
<circle cx="172" cy="351.3" r="1.94" fill="#f2cc3c" stroke="#866c12" stroke-width="1.05"/>
<circle cx="175.5" cy="350.5" r="1.94" fill="#f2cc3c" stroke="#866c12" stroke-width="1.05"/>
<circle cx="178.9" cy="352" r="1.94" fill="#f2cc3c" stroke="#866c12" stroke-width="1.05"/>
<line x1="163.6" y1="349.5" x2="180.4" y2="349.5" stroke="#2a2a2a" stroke-width="1"/>
<line x1="172" y1="348.3" x2="172" y2="351.2" stroke="#2a2a2a" stroke-width="0.8"/>
<line x1="170" y1="348.3" x2="174" y2="348.3" stroke="#2a2a2a" stroke-width="0.8"/>
<line x1="170" y1="351.2" x2="174" y2="351.2" stroke="#2a2a2a" stroke-width="0.8"/>
<text x="204.6" y="270.9" font-size="10.5" font-weight="bold">F</text>
<text x="293.3" y="280.4" font-size="8.5" text-anchor="middle">Tumor Cell Suspension</text>
<line x1="245.2" y1="286.2" x2="245.2" y2="309.5" stroke="#2b2b2b" stroke-width="1.15"/>
<line x1="243" y1="288.6" x2="245.2" y2="288.6" stroke="#2b2b2b" stroke-width="0.9"/>
<text x="239.1" y="290.85" font-size="6.6" text-anchor="end" textLength="12.9" lengthAdjust="spacingAndGlyphs">400</text>
<line x1="243" y1="298.8" x2="245.2" y2="298.8" stroke="#2b2b2b" stroke-width="0.9"/>
<text x="239.1" y="301.05" font-size="6.6" text-anchor="end" textLength="12.9" lengthAdjust="spacingAndGlyphs">300</text>
<line x1="243" y1="309.2" x2="245.2" y2="309.2" stroke="#2b2b2b" stroke-width="0.9"/>
<text x="239.1" y="311.45" font-size="6.6" text-anchor="end" textLength="12.9" lengthAdjust="spacingAndGlyphs">200</text>
<line x1="245.2" y1="315.6" x2="245.2" y2="365.05" stroke="#555" stroke-width="1.4"/>
<line x1="243.6" y1="315.6" x2="246.8" y2="315.6" stroke="#2b2b2b" stroke-width="0.9"/>
<line x1="243" y1="315.6" x2="245.2" y2="315.6" stroke="#2b2b2b" stroke-width="0.9"/>
<text x="239.1" y="317.85" font-size="6.6" text-anchor="end" textLength="12.9" lengthAdjust="spacingAndGlyphs">150</text>
<line x1="243" y1="331.9" x2="245.2" y2="331.9" stroke="#2b2b2b" stroke-width="0.9"/>
<text x="239.1" y="334.15" font-size="6.6" text-anchor="end" textLength="12.9" lengthAdjust="spacingAndGlyphs">100</text>
<line x1="243" y1="348.2" x2="245.2" y2="348.2" stroke="#2b2b2b" stroke-width="0.9"/>
<text x="239.1" y="350.45" font-size="6.6" text-anchor="end" textLength="8.6" lengthAdjust="spacingAndGlyphs">50</text>
<line x1="243" y1="364.6" x2="245.2" y2="364.6" stroke="#2b2b2b" stroke-width="0.9"/>
<text x="239.1" y="366.85" font-size="6.6" text-anchor="end" textLength="4.3" lengthAdjust="spacingAndGlyphs">0</text>
<line x1="245.2" y1="364.6" x2="340.8" y2="364.6" stroke="#2b2b2b" stroke-width="1.15"/>
<line x1="251.5" y1="364.6" x2="251.5" y2="366.6" stroke="#2b2b2b" stroke-width="0.8"/>
<line x1="260.3" y1="364.6" x2="260.3" y2="366.6" stroke="#2b2b2b" stroke-width="0.8"/>
<line x1="269.2" y1="364.6" x2="269.2" y2="366.6" stroke="#2b2b2b" stroke-width="0.8"/>
<line x1="278.5" y1="364.6" x2="278.5" y2="366.6" stroke="#2b2b2b" stroke-width="0.8"/>
<line x1="288.1" y1="364.6" x2="288.1" y2="366.6" stroke="#2b2b2b" stroke-width="0.8"/>
<line x1="297.3" y1="364.6" x2="297.3" y2="366.6" stroke="#2b2b2b" stroke-width="0.8"/>
<line x1="306.8" y1="364.6" x2="306.8" y2="366.6" stroke="#2b2b2b" stroke-width="0.8"/>
<line x1="315.8" y1="364.6" x2="315.8" y2="366.6" stroke="#2b2b2b" stroke-width="0.8"/>
<line x1="325.3" y1="364.6" x2="325.3" y2="366.6" stroke="#2b2b2b" stroke-width="0.8"/>
<line x1="334.1" y1="364.6" x2="334.1" y2="366.6" stroke="#2b2b2b" stroke-width="0.8"/>
<text transform="translate(220.8,321.6) rotate(-90)" x="0" y="0" font-size="8.6" font-weight="normal" text-anchor="middle" textLength="59" lengthAdjust="spacingAndGlyphs" fill="#1e1e1e" style="stroke-width:0.3px">Number of IFN-<tspan font-family="Liberation Serif" font-style="italic">γ</tspan> spots</text>
<line x1="248.9" y1="370.7" x2="263" y2="370.7" stroke="#7a7a7a" stroke-width="1.2"/>
<line x1="266.6" y1="370.7" x2="281.4" y2="370.7" stroke="#7a7a7a" stroke-width="1.2"/>
<line x1="285.2" y1="370.7" x2="299.8" y2="370.7" stroke="#7a7a7a" stroke-width="1.2"/>
<line x1="303.7" y1="370.7" x2="318.2" y2="370.7" stroke="#7a7a7a" stroke-width="1.2"/>
<line x1="322" y1="370.7" x2="336.8" y2="370.7" stroke="#7a7a7a" stroke-width="1.2"/>
<text x="225.4" y="380.3" font-size="7.4" text-anchor="middle" textLength="40.9" lengthAdjust="spacingAndGlyphs">AH1 peptide</text>
<line x1="253.7" y1="378" x2="257.9" y2="378" stroke="#2a2a2a" stroke-width="0.9"/>
<line x1="255.8" y1="375.9" x2="255.8" y2="380.1" stroke="#2a2a2a" stroke-width="0.9"/>
<line x1="272.2" y1="378" x2="276.4" y2="378" stroke="#2a2a2a" stroke-width="0.9"/>
<line x1="274.3" y1="375.9" x2="274.3" y2="380.1" stroke="#2a2a2a" stroke-width="0.9"/>
<line x1="290.6" y1="378" x2="294.8" y2="378" stroke="#2a2a2a" stroke-width="0.9"/>
<line x1="292.7" y1="375.9" x2="292.7" y2="380.1" stroke="#2a2a2a" stroke-width="0.9"/>
<line x1="309" y1="378" x2="313.2" y2="378" stroke="#2a2a2a" stroke-width="0.9"/>
<line x1="311.1" y1="375.9" x2="311.1" y2="380.1" stroke="#2a2a2a" stroke-width="0.9"/>
<line x1="327.6" y1="378" x2="331.8" y2="378" stroke="#2a2a2a" stroke-width="0.85"/>
<text x="225.4" y="391.3" font-size="7.4" text-anchor="middle" textLength="33.4" lengthAdjust="spacingAndGlyphs">anti-MHCI</text>
<line x1="253.7" y1="389.2" x2="257.9" y2="389.2" stroke="#2a2a2a" stroke-width="0.85"/>
<line x1="272.2" y1="389.2" x2="276.4" y2="389.2" stroke="#2a2a2a" stroke-width="0.9"/>
<line x1="274.3" y1="387.1" x2="274.3" y2="391.3" stroke="#2a2a2a" stroke-width="0.9"/>
<line x1="290.6" y1="389.2" x2="294.8" y2="389.2" stroke="#2a2a2a" stroke-width="0.85"/>
<line x1="309" y1="389.2" x2="313.2" y2="389.2" stroke="#2a2a2a" stroke-width="0.9"/>
<line x1="311.1" y1="387.1" x2="311.1" y2="391.3" stroke="#2a2a2a" stroke-width="0.9"/>
<line x1="327.6" y1="389.2" x2="331.8" y2="389.2" stroke="#2a2a2a" stroke-width="0.85"/>
<text x="225.4" y="402.3" font-size="7.4" text-anchor="middle" textLength="41.5" lengthAdjust="spacingAndGlyphs">aCD3/CD28</text>
<line x1="253.7" y1="400.4" x2="257.9" y2="400.4" stroke="#2a2a2a" stroke-width="0.85"/>
<line x1="272.2" y1="400.4" x2="276.4" y2="400.4" stroke="#2a2a2a" stroke-width="0.85"/>
<line x1="290.6" y1="400.4" x2="294.8" y2="400.4" stroke="#2a2a2a" stroke-width="0.85"/>
<line x1="309" y1="400.4" x2="313.2" y2="400.4" stroke="#2a2a2a" stroke-width="0.85"/>
<line x1="327.6" y1="400.4" x2="331.8" y2="400.4" stroke="#2a2a2a" stroke-width="0.9"/>
<line x1="329.7" y1="398.3" x2="329.7" y2="402.5" stroke="#2a2a2a" stroke-width="0.9"/>
<line x1="248.9" y1="407.3" x2="280.9" y2="407.3" stroke="#7a7a7a" stroke-width="1.2"/>
<line x1="285.2" y1="407.3" x2="317.4" y2="407.3" stroke="#7a7a7a" stroke-width="1.2"/>
<text x="264.6" y="417" font-size="7.4" text-anchor="middle">Irradiated</text>
<text x="264.6" y="426.5" font-size="7.4" text-anchor="middle">Tumor</text>
<text x="301.4" y="417" font-size="7.4" text-anchor="middle">Non-</text>
<text x="301.4" y="426.5" font-size="7.4" text-anchor="middle">Irradiated</text>
<text x="301.4" y="436" font-size="7.4" text-anchor="middle">Tumor</text>
<path d="M249.2,300.1 V298.9 H269.8 V300.1" stroke="#6a6a6a" stroke-width="0.75" fill="none"/>
<circle cx="258.1" cy="294.7" r="0.95" fill="#222"/>
<circle cx="260.9" cy="294.7" r="0.95" fill="#222"/>
<path d="M249.2,308.5 V307.3 H259.2 V308.5" stroke="#6a6a6a" stroke-width="0.75" fill="none"/>
<path d="M259.2,308.5 V307.3 H279.4 V308.5" stroke="#6a6a6a" stroke-width="0.75" fill="none"/>
<circle cx="254" cy="303.1" r="0.95" fill="#222"/>
<circle cx="265.4" cy="303.2" r="0.95" fill="#222"/>
<circle cx="268.2" cy="303.2" r="0.95" fill="#222"/>
<circle cx="271" cy="303.2" r="0.95" fill="#222"/>
<circle cx="273.8" cy="303.2" r="0.95" fill="#222"/>
<path d="M287.1,300.1 V298.9 H307.3 V300.1" stroke="#6a6a6a" stroke-width="0.75" fill="none"/>
<circle cx="295.4" cy="294.7" r="0.95" fill="#222"/>
<circle cx="298.2" cy="294.7" r="0.95" fill="#222"/>
<path d="M287.1,308.5 V307.3 H297.7 V308.5" stroke="#6a6a6a" stroke-width="0.75" fill="none"/>
<path d="M297.7,308.5 V307.3 H318.4 V308.5" stroke="#6a6a6a" stroke-width="0.75" fill="none"/>
<circle cx="292.2" cy="303.1" r="0.95" fill="#222"/>
<circle cx="308.3" cy="303.1" r="0.95" fill="#222"/>
<circle cx="250.1" cy="327.6" r="1.85" fill="#55aed3" stroke="#1a5068" stroke-width="1.05"/>
<circle cx="251.5" cy="329.6" r="1.85" fill="#55aed3" stroke="#1a5068" stroke-width="1.05"/>
<circle cx="252.2" cy="331.6" r="1.85" fill="#55aed3" stroke="#1a5068" stroke-width="1.05"/>
<circle cx="250.8" cy="347.8" r="1.85" fill="#55aed3" stroke="#1a5068" stroke-width="1.05"/>
<circle cx="251.5" cy="349.9" r="1.85" fill="#55aed3" stroke="#1a5068" stroke-width="1.05"/>
<circle cx="250.1" cy="351.9" r="1.85" fill="#55aed3" stroke="#1a5068" stroke-width="1.05"/>
<circle cx="250.8" cy="354.6" r="1.85" fill="#55aed3" stroke="#1a5068" stroke-width="1.05"/>
<line x1="248.4" y1="345.5" x2="254.6" y2="345.5" stroke="#2a2a2a" stroke-width="1"/>
<line x1="251.5" y1="341.8" x2="251.5" y2="349.2" stroke="#2a2a2a" stroke-width="0.8"/>
<line x1="249.9" y1="341.8" x2="253.1" y2="341.8" stroke="#2a2a2a" stroke-width="0.8"/>
<line x1="249.9" y1="349.2" x2="253.1" y2="349.2" stroke="#2a2a2a" stroke-width="0.8"/>
<circle cx="259.6" cy="355" r="1.85" fill="#f2cc3c" stroke="#866c12" stroke-width="1.05"/>
<circle cx="261" cy="356.5" r="1.85" fill="#f2cc3c" stroke="#866c12" stroke-width="1.05"/>
<circle cx="259.6" cy="358" r="1.85" fill="#f2cc3c" stroke="#866c12" stroke-width="1.05"/>
<circle cx="261" cy="359.5" r="1.85" fill="#f2cc3c" stroke="#866c12" stroke-width="1.05"/>
<circle cx="260.3" cy="361" r="1.85" fill="#f2cc3c" stroke="#866c12" stroke-width="1.05"/>
<path d="M266.8,351.54 L271.2,351.54 L269,355.28 Z" fill="#55aed3" stroke="#1a5068" stroke-width="0.8"/>
<path d="M266.2,354.24 L270.6,354.24 L268.4,357.98 Z" fill="#55aed3" stroke="#1a5068" stroke-width="0.8"/>
<path d="M267.8,356.74 L272.2,356.74 L270,360.48 Z" fill="#55aed3" stroke="#1a5068" stroke-width="0.8"/>
<path d="M266.8,359.24 L271.2,359.24 L269,362.98 Z" fill="#55aed3" stroke="#1a5068" stroke-width="0.8"/>
<path d="M266.4,361.24 L270.8,361.24 L268.6,364.98 Z" fill="#55aed3" stroke="#1a5068" stroke-width="0.8"/>
<path d="M276.3,360.36 L280.7,360.36 L278.5,356.62 Z" fill="#f2cc3c" stroke="#866c12" stroke-width="0.8"/>
<path d="M275.8,362.56 L280.2,362.56 L278,358.82 Z" fill="#f2cc3c" stroke="#866c12" stroke-width="0.8"/>
<path d="M276.8,364.16 L281.2,364.16 L279,360.42 Z" fill="#f2cc3c" stroke="#866c12" stroke-width="0.8"/>
<path d="M276.3,365.36 L280.7,365.36 L278.5,361.62 Z" fill="#f2cc3c" stroke="#866c12" stroke-width="0.8"/>
<circle cx="288.1" cy="320.5" r="1.85" fill="#55aed3" stroke="#1a5068" stroke-width="1.05"/>
<circle cx="286.8" cy="332.3" r="1.85" fill="#55aed3" stroke="#1a5068" stroke-width="1.05"/>
<circle cx="289.7" cy="332.3" r="1.85" fill="#55aed3" stroke="#1a5068" stroke-width="1.05"/>
<circle cx="288.1" cy="333.6" r="1.85" fill="#55aed3" stroke="#1a5068" stroke-width="1.05"/>
<circle cx="288.1" cy="342.4" r="1.85" fill="#55aed3" stroke="#1a5068" stroke-width="1.05"/>
<circle cx="286.8" cy="348.5" r="1.85" fill="#55aed3" stroke="#1a5068" stroke-width="1.05"/>
<circle cx="289.7" cy="350.3" r="1.85" fill="#55aed3" stroke="#1a5068" stroke-width="1.05"/>
<circle cx="287" cy="353" r="1.85" fill="#55aed3" stroke="#1a5068" stroke-width="1.05"/>
<line x1="285.3" y1="340.5" x2="291.5" y2="340.5" stroke="#2a2a2a" stroke-width="1"/>
<line x1="288.4" y1="336.3" x2="288.4" y2="344" stroke="#2a2a2a" stroke-width="0.8"/>
<line x1="286.8" y1="336.3" x2="290" y2="336.3" stroke="#2a2a2a" stroke-width="0.8"/>
<line x1="286.8" y1="344" x2="290" y2="344" stroke="#2a2a2a" stroke-width="0.8"/>
<circle cx="298.9" cy="341.8" r="1.85" fill="#f2cc3c" stroke="#866c12" stroke-width="1.05"/>
<circle cx="296.5" cy="344.9" r="1.85" fill="#f2cc3c" stroke="#866c12" stroke-width="1.05"/>
<circle cx="296.5" cy="350.5" r="1.85" fill="#f2cc3c" stroke="#866c12" stroke-width="1.05"/>
<circle cx="298.9" cy="353" r="1.85" fill="#f2cc3c" stroke="#866c12" stroke-width="1.05"/>
<circle cx="296.5" cy="355.3" r="1.85" fill="#f2cc3c" stroke="#866c12" stroke-width="1.05"/>
<circle cx="298.9" cy="358" r="1.85" fill="#f2cc3c" stroke="#866c12" stroke-width="1.05"/>
<circle cx="296.5" cy="360.3" r="1.85" fill="#f2cc3c" stroke="#866c12" stroke-width="1.05"/>
<path d="M304.6,350.44 L309,350.44 L306.8,354.18 Z" fill="#55aed3" stroke="#1a5068" stroke-width="0.8"/>
<path d="M303.8,357.54 L308.2,357.54 L306,361.28 Z" fill="#55aed3" stroke="#1a5068" stroke-width="0.8"/>
<path d="M305.5,358.94 L309.9,358.94 L307.7,362.68 Z" fill="#55aed3" stroke="#1a5068" stroke-width="0.8"/>
<path d="M304.6,360.94 L309,360.94 L306.8,364.68 Z" fill="#55aed3" stroke="#1a5068" stroke-width="0.8"/>
<path d="M313.6,355.66 L318,355.66 L315.8,351.92 Z" fill="#f2cc3c" stroke="#866c12" stroke-width="0.8"/>
<path d="M313.6,358.36 L318,358.36 L315.8,354.62 Z" fill="#f2cc3c" stroke="#866c12" stroke-width="0.8"/>
<path d="M312.7,361.06 L317.1,361.06 L314.9,357.32 Z" fill="#f2cc3c" stroke="#866c12" stroke-width="0.8"/>
<path d="M314.3,362.86 L318.7,362.86 L316.5,359.12 Z" fill="#f2cc3c" stroke="#866c12" stroke-width="0.8"/>
<path d="M313.6,365.16 L318,365.16 L315.8,361.42 Z" fill="#f2cc3c" stroke="#866c12" stroke-width="0.8"/>
<path d="M323.7,317.85 L325.75,319.9 L323.7,321.95 L321.65,319.9 Z" fill="#80bde0" stroke="#1d3f62" stroke-width="0.95"/>
<path d="M326.7,317.25 L328.75,319.3 L326.7,321.35 L324.65,319.3 Z" fill="#80bde0" stroke="#1d3f62" stroke-width="0.95"/>
<path d="M326.2,296.25 L328.25,298.3 L326.2,300.35 L324.15,298.3 Z" fill="#80bde0" stroke="#1d3f62" stroke-width="0.95"/>
<path d="M324,298.25 L326.05,300.3 L324,302.35 L321.95,300.3 Z" fill="#80bde0" stroke="#1d3f62" stroke-width="0.95"/>
<path d="M326.2,300.45 L328.25,302.5 L326.2,304.55 L324.15,302.5 Z" fill="#80bde0" stroke="#1d3f62" stroke-width="0.95"/>
<path d="M324.6,302.75 L326.65,304.8 L324.6,306.85 L322.55,304.8 Z" fill="#80bde0" stroke="#1d3f62" stroke-width="0.95"/>
<line x1="322.6" y1="306.5" x2="327.8" y2="306.5" stroke="#2a2a2a" stroke-width="1"/>
<line x1="325.2" y1="306" x2="325.2" y2="309.6" stroke="#2a2a2a" stroke-width="0.8"/>
<line x1="325.2" y1="306" x2="325.2" y2="306" stroke="#2a2a2a" stroke-width="0.8"/>
<line x1="325.2" y1="309.6" x2="325.2" y2="309.6" stroke="#2a2a2a" stroke-width="0.8"/>
<path d="M334.4,303.75 L336.45,305.8 L334.4,307.85 L332.35,305.8 Z" fill="#e3c23a" stroke="#5f4c0e" stroke-width="0.95"/>
<line x1="331.1" y1="333.5" x2="337.3" y2="333.5" stroke="#2a2a2a" stroke-width="1"/>
<line x1="334.2" y1="324.6" x2="334.2" y2="340.7" stroke="#2a2a2a" stroke-width="0.8"/>
<line x1="333" y1="324.6" x2="335.4" y2="324.6" stroke="#2a2a2a" stroke-width="0.8"/>
<line x1="333" y1="340.7" x2="335.4" y2="340.7" stroke="#2a2a2a" stroke-width="0.8"/>
<path d="M334.6,325.75 L336.65,327.8 L334.6,329.85 L332.55,327.8 Z" fill="#e3c23a" stroke="#5f4c0e" stroke-width="0.95"/>
<path d="M332.9,327.95 L334.95,330 L332.9,332.05 L330.85,330 Z" fill="#e3c23a" stroke="#5f4c0e" stroke-width="0.95"/>
<path d="M334.1,340.35 L336.15,342.4 L334.1,344.45 L332.05,342.4 Z" fill="#e3c23a" stroke="#5f4c0e" stroke-width="0.95"/>
<path d="M334.1,343.75 L336.15,345.8 L334.1,347.85 L332.05,345.8 Z" fill="#e3c23a" stroke="#5f4c0e" stroke-width="0.95"/>
<path d="M334.1,353.35 L336.15,355.4 L334.1,357.45 L332.05,355.4 Z" fill="#fff" stroke="#5f4c0e" stroke-width="0.95"/>
<text x="355.6" y="270.9" font-size="10.5" font-weight="bold">G</text>
<text x="433.6" y="269.8" font-size="8.5" text-anchor="middle">Spleen Cell</text>
<text x="433.6" y="280.5" font-size="8.5" text-anchor="middle">Suspension</text>
<line x1="395.3" y1="286.2" x2="395.3" y2="309.5" stroke="#2b2b2b" stroke-width="1.15"/>
<line x1="393.1" y1="288.6" x2="395.3" y2="288.6" stroke="#2b2b2b" stroke-width="0.9"/>
<text x="389.1" y="290.85" font-size="6.6" text-anchor="end" textLength="12.9" lengthAdjust="spacingAndGlyphs">500</text>
<line x1="393.1" y1="301.4" x2="395.3" y2="301.4" stroke="#2b2b2b" stroke-width="0.9"/>
<text x="389.1" y="303.65" font-size="6.6" text-anchor="end" textLength="12.9" lengthAdjust="spacingAndGlyphs">250</text>
<line x1="393.1" y1="309.5" x2="395.3" y2="309.5" stroke="#2b2b2b" stroke-width="0.9"/>
<line x1="395.3" y1="315.6" x2="395.3" y2="365.05" stroke="#555" stroke-width="1.4"/>
<line x1="393.7" y1="315.6" x2="396.9" y2="315.6" stroke="#2b2b2b" stroke-width="0.9"/>
<line x1="393.1" y1="315.9" x2="395.3" y2="315.9" stroke="#2b2b2b" stroke-width="0.9"/>
<text x="389.1" y="318.15" font-size="6.6" text-anchor="end" textLength="8.6" lengthAdjust="spacingAndGlyphs">80</text>
<line x1="393.1" y1="328.1" x2="395.3" y2="328.1" stroke="#2b2b2b" stroke-width="0.9"/>
<text x="389.1" y="330.35" font-size="6.6" text-anchor="end" textLength="8.6" lengthAdjust="spacingAndGlyphs">60</text>
<line x1="393.1" y1="340.3" x2="395.3" y2="340.3" stroke="#2b2b2b" stroke-width="0.9"/>
<text x="389.1" y="342.55" font-size="6.6" text-anchor="end" textLength="8.6" lengthAdjust="spacingAndGlyphs">40</text>
<line x1="393.1" y1="352.4" x2="395.3" y2="352.4" stroke="#2b2b2b" stroke-width="0.9"/>
<text x="389.1" y="354.65" font-size="6.6" text-anchor="end" textLength="8.6" lengthAdjust="spacingAndGlyphs">20</text>
<line x1="393.1" y1="364.6" x2="395.3" y2="364.6" stroke="#2b2b2b" stroke-width="0.9"/>
<text x="389.1" y="366.85" font-size="6.6" text-anchor="end" textLength="4.3" lengthAdjust="spacingAndGlyphs">0</text>
<line x1="395.3" y1="364.6" x2="467" y2="364.6" stroke="#2b2b2b" stroke-width="1.15"/>
<line x1="403.5" y1="364.6" x2="403.5" y2="366.6" stroke="#2b2b2b" stroke-width="0.8"/>
<line x1="415.4" y1="364.6" x2="415.4" y2="366.6" stroke="#2b2b2b" stroke-width="0.8"/>
<line x1="426.9" y1="364.6" x2="426.9" y2="366.6" stroke="#2b2b2b" stroke-width="0.8"/>
<line x1="439.2" y1="364.6" x2="439.2" y2="366.6" stroke="#2b2b2b" stroke-width="0.8"/>
<line x1="451.3" y1="364.6" x2="451.3" y2="366.6" stroke="#2b2b2b" stroke-width="0.8"/>
<line x1="463.2" y1="364.6" x2="463.2" y2="366.6" stroke="#2b2b2b" stroke-width="0.8"/>
<text transform="translate(371.4,321.6) rotate(-90)" x="0" y="0" font-size="8.6" font-weight="normal" text-anchor="middle" textLength="59" lengthAdjust="spacingAndGlyphs" fill="#1e1e1e" style="stroke-width:0.3px">Number of IFN-<tspan font-family="Liberation Serif" font-style="italic">γ</tspan> spots</text>
<line x1="399.4" y1="370.7" x2="417.8" y2="370.7" stroke="#7a7a7a" stroke-width="1.2"/>
<line x1="423.6" y1="370.7" x2="442.3" y2="370.7" stroke="#7a7a7a" stroke-width="1.2"/>
<line x1="447.9" y1="370.7" x2="466.6" y2="370.7" stroke="#7a7a7a" stroke-width="1.2"/>
<text x="376.4" y="380.3" font-size="7.4" text-anchor="middle" textLength="40.9" lengthAdjust="spacingAndGlyphs">AH1 peptide</text>
<line x1="406.3" y1="378" x2="410.5" y2="378" stroke="#2a2a2a" stroke-width="0.9"/>
<line x1="408.4" y1="375.9" x2="408.4" y2="380.1" stroke="#2a2a2a" stroke-width="0.9"/>
<line x1="430.8" y1="378" x2="435" y2="378" stroke="#2a2a2a" stroke-width="0.9"/>
<line x1="432.9" y1="375.9" x2="432.9" y2="380.1" stroke="#2a2a2a" stroke-width="0.9"/>
<line x1="455.2" y1="378" x2="459.4" y2="378" stroke="#2a2a2a" stroke-width="0.85"/>
<text x="376.4" y="391.3" font-size="7.4" text-anchor="middle" textLength="33.4" lengthAdjust="spacingAndGlyphs">anti-MHCI</text>
<line x1="406.3" y1="389.2" x2="410.5" y2="389.2" stroke="#2a2a2a" stroke-width="0.85"/>
<line x1="430.8" y1="389.2" x2="435" y2="389.2" stroke="#2a2a2a" stroke-width="0.9"/>
<line x1="432.9" y1="387.1" x2="432.9" y2="391.3" stroke="#2a2a2a" stroke-width="0.9"/>
<line x1="455.2" y1="389.2" x2="459.4" y2="389.2" stroke="#2a2a2a" stroke-width="0.85"/>
<text x="376.4" y="402.3" font-size="7.4" text-anchor="middle" textLength="41.5" lengthAdjust="spacingAndGlyphs">aCD3/CD28</text>
<line x1="406.3" y1="400.4" x2="410.5" y2="400.4" stroke="#2a2a2a" stroke-width="0.85"/>
<line x1="430.8" y1="400.4" x2="435" y2="400.4" stroke="#2a2a2a" stroke-width="0.85"/>
<line x1="455.2" y1="400.4" x2="459.4" y2="400.4" stroke="#2a2a2a" stroke-width="0.9"/>
<line x1="457.3" y1="398.3" x2="457.3" y2="402.5" stroke="#2a2a2a" stroke-width="0.9"/>
<path d="M400.2,297 V295.4 H427.7 V297" stroke="#6a6a6a" stroke-width="0.75" fill="none"/>
<circle cx="412.3" cy="291.3" r="0.95" fill="#222"/>
<circle cx="415.1" cy="291.3" r="0.95" fill="#222"/>
<path d="M400.2,304.7 V303.1 H414.2 V304.7" stroke="#6a6a6a" stroke-width="0.75" fill="none"/>
<circle cx="407.3" cy="298.9" r="0.95" fill="#222"/>
<circle cx="476.6" cy="289.2" r="1.94" fill="#55aed3" stroke="#1a5068" stroke-width="1.05"/>
<circle cx="476.6" cy="300.4" r="1.94" fill="#f2cc3c" stroke="#866c12" stroke-width="1.05"/>
<text x="481.2" y="291.7" font-size="7.1">RT+CART</text>
<text x="481.2" y="302.5" font-size="7.1">RT+CART</text>
<text x="481.4" y="310.5" font-size="7.1">+H-151</text>
<circle cx="405.4" cy="324.6" r="1.85" fill="#55aed3" stroke="#1a5068" stroke-width="1.05"/>
<circle cx="403.1" cy="327.7" r="1.85" fill="#55aed3" stroke="#1a5068" stroke-width="1.05"/>
<circle cx="403.5" cy="337.4" r="1.85" fill="#55aed3" stroke="#1a5068" stroke-width="1.05"/>
<circle cx="403.5" cy="351.5" r="1.85" fill="#55aed3" stroke="#1a5068" stroke-width="1.05"/>
<circle cx="401.1" cy="355.4" r="1.85" fill="#55aed3" stroke="#1a5068" stroke-width="1.05"/>
<circle cx="405.4" cy="355.4" r="1.85" fill="#55aed3" stroke="#1a5068" stroke-width="1.05"/>
<line x1="400.1" y1="346.5" x2="406.9" y2="346.5" stroke="#2a2a2a" stroke-width="1"/>
<line x1="403.5" y1="345" x2="403.5" y2="349" stroke="#2a2a2a" stroke-width="0.8"/>
<line x1="401.9" y1="345" x2="405.1" y2="345" stroke="#2a2a2a" stroke-width="0.8"/>
<line x1="401.9" y1="349" x2="405.1" y2="349" stroke="#2a2a2a" stroke-width="0.8"/>
<circle cx="415.4" cy="340.8" r="1.85" fill="#f2cc3c" stroke="#866c12" stroke-width="1.05"/>
<circle cx="413.1" cy="359.2" r="1.85" fill="#f2cc3c" stroke="#866c12" stroke-width="1.05"/>
<circle cx="417.4" cy="360" r="1.85" fill="#f2cc3c" stroke="#866c12" stroke-width="1.05"/>
<circle cx="415.4" cy="362.3" r="1.85" fill="#f2cc3c" stroke="#866c12" stroke-width="1.05"/>
<circle cx="413.1" cy="364.2" r="1.85" fill="#f2cc3c" stroke="#866c12" stroke-width="1.05"/>
<circle cx="417.4" cy="363.6" r="1.85" fill="#f2cc3c" stroke="#866c12" stroke-width="1.05"/>
<path d="M427.5,349.74 L431.9,349.74 L429.7,353.48 Z" fill="#55aed3" stroke="#1a5068" stroke-width="0.8"/>
<path d="M423.2,352.84 L427.6,352.84 L425.4,356.58 Z" fill="#55aed3" stroke="#1a5068" stroke-width="0.8"/>
<path d="M427.5,354.44 L431.9,354.44 L429.7,358.18 Z" fill="#55aed3" stroke="#1a5068" stroke-width="0.8"/>
<path d="M423.2,358.24 L427.6,358.24 L425.4,361.98 Z" fill="#55aed3" stroke="#1a5068" stroke-width="0.8"/>
<path d="M427.5,359.04 L431.9,359.04 L429.7,362.78 Z" fill="#55aed3" stroke="#1a5068" stroke-width="0.8"/>
<path d="M425.5,361.24 L429.9,361.24 L427.7,364.98 Z" fill="#55aed3" stroke="#1a5068" stroke-width="0.8"/>
<path d="M436.3,364.76 L440.7,364.76 L438.5,361.02 Z" fill="#f2cc3c" stroke="#866c12" stroke-width="0.8"/>
<path d="M438.6,365.36 L443,365.36 L440.8,361.62 Z" fill="#f2cc3c" stroke="#866c12" stroke-width="0.8"/>
<path d="M437.3,363.76 L441.7,363.76 L439.5,360.02 Z" fill="#f2cc3c" stroke="#866c12" stroke-width="0.8"/>
<path d="M451.5,291.8 L453.8,294.1 L451.5,296.4 L449.2,294.1 Z" fill="#80bde0" stroke="#1d3f62" stroke-width="0.95"/>
<path d="M449.5,296.2 L451.8,298.5 L449.5,300.8 L447.2,298.5 Z" fill="#80bde0" stroke="#1d3f62" stroke-width="0.95"/>
<path d="M453.9,296.2 L456.2,298.5 L453.9,300.8 L451.6,298.5 Z" fill="#80bde0" stroke="#1d3f62" stroke-width="0.95"/>
<path d="M453.9,300.3 L456.2,302.6 L453.9,304.9 L451.6,302.6 Z" fill="#80bde0" stroke="#1d3f62" stroke-width="0.95"/>
<path d="M449.5,301.6 L451.8,303.9 L449.5,306.2 L447.2,303.9 Z" fill="#80bde0" stroke="#1d3f62" stroke-width="0.95"/>
<path d="M449.5,305.7 L451.8,308 L449.5,310.3 L447.2,308 Z" fill="#80bde0" stroke="#1d3f62" stroke-width="0.95"/>
<path d="M453.9,305.7 L456.2,308 L453.9,310.3 L451.6,308 Z" fill="#80bde0" stroke="#1d3f62" stroke-width="0.95"/>
<line x1="447.8" y1="298.6" x2="455.6" y2="298.6" stroke="#1c3f55" stroke-width="0.8"/>
<path d="M463.3,290.5 L465.6,292.8 L463.3,295.1 L461,292.8 Z" fill="#e3c23a" stroke="#5f4c0e" stroke-width="0.95"/>
<path d="M465.3,289.1 L467.6,291.4 L465.3,293.7 L463,291.4 Z" fill="#e3c23a" stroke="#5f4c0e" stroke-width="0.95"/>
<path d="M465.3,295.9 L467.6,298.2 L465.3,300.5 L463,298.2 Z" fill="#e3c23a" stroke="#5f4c0e" stroke-width="0.95"/>
<path d="M461.3,299.6 L463.6,301.9 L461.3,304.2 L459,301.9 Z" fill="#e3c23a" stroke="#5f4c0e" stroke-width="0.95"/>
<path d="M465.7,303.3 L468,305.6 L465.7,307.9 L463.4,305.6 Z" fill="#e3c23a" stroke="#5f4c0e" stroke-width="0.95"/>
<path d="M461.3,305.3 L463.6,307.6 L461.3,309.9 L459,307.6 Z" fill="#fff" stroke="#5f4c0e" stroke-width="0.95"/>
<line x1="459.6" y1="301.9" x2="467.4" y2="301.9" stroke="#6a5510" stroke-width="0.8"/>
</g>
</svg>
<div id="frame"></div>
</div>
</body></html>
